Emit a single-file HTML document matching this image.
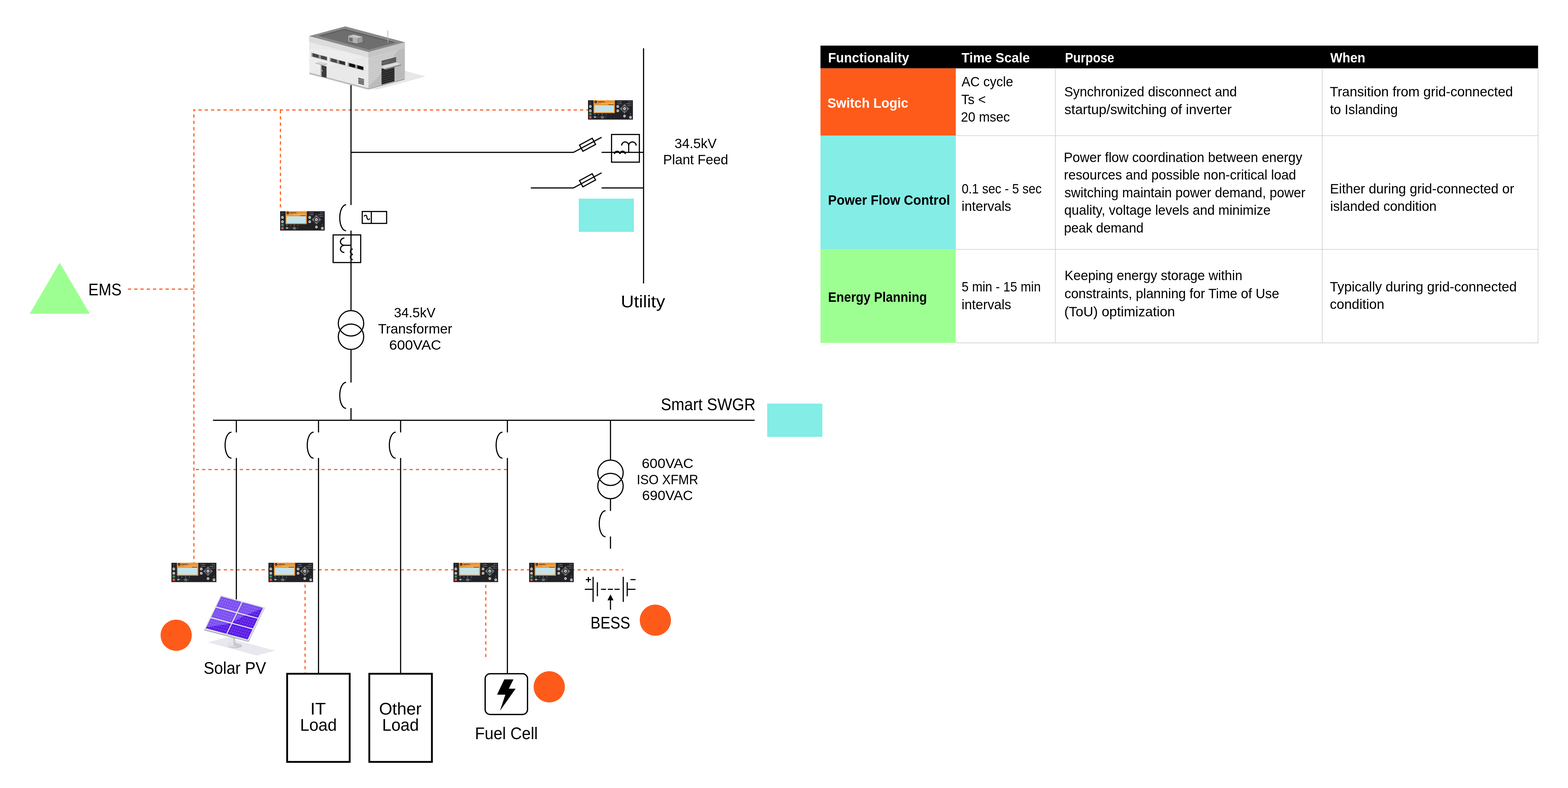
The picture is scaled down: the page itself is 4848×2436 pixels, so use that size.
<!DOCTYPE html>
<html lang="en"><head><meta charset="utf-8"><title>Microgrid control architecture</title>
<style>html,body{margin:0;padding:0;background:#fff}body{width:4848px;height:2436px;overflow:hidden}svg{display:block;will-change:transform}text{font-family:"Liberation Sans",Arial,Helvetica,sans-serif}</style>
</head><body>
<svg xmlns="http://www.w3.org/2000/svg" width="4848" height="2436" viewBox="0 0 4848 2436">
<rect width="4848" height="2436" fill="#fff"/>
<filter id="soft" x="-5%" y="-5%" width="110%" height="110%"><feGaussianBlur stdDeviation="0.45"/></filter>
<filter id="soft2" x="-2%" y="-4%" width="104%" height="108%"><feGaussianBlur stdDeviation="0.35"/></filter>
<g>
<path d="M1822.7 340 H597.75" fill="none" stroke="#FE5B1B" stroke-width="3.5" stroke-dasharray="10 9.34" stroke-dashoffset="0"/>
<path d="M599.5 338.25 V1742" fill="none" stroke="#FE5B1B" stroke-width="3.5" stroke-dasharray="10 9.49" stroke-dashoffset="3.95"/>
<path d="M867 339.9 V641.2" fill="none" stroke="#FE5B1B" stroke-width="3.5" stroke-dasharray="10 9.4" stroke-dashoffset="0"/>
<path d="M395.5 893.75 H599" fill="none" stroke="#FE5B1B" stroke-width="3.5" stroke-dasharray="10 9.4" stroke-dashoffset="0"/>
<path d="M1568.75 1451.5 H601" fill="none" stroke="#FE5B1B" stroke-width="3.5" stroke-dasharray="10 9.44" stroke-dashoffset="-0.8"/>
<path d="M672.3 1761.6 H1927.2" fill="none" stroke="#FE5B1B" stroke-width="3.5" stroke-dasharray="10 9.53" stroke-dashoffset="0"/>
<path d="M943.25 1807 V2080" fill="none" stroke="#FE5B1B" stroke-width="3.5" stroke-dasharray="9.6 9.8" stroke-dashoffset="0"/>
<path d="M1502 1808 V2032" fill="none" stroke="#FE5B1B" stroke-width="3.5" stroke-dasharray="9.8 9.6" stroke-dashoffset="0"/>
</g>
<g stroke-linecap="butt">
<line x1="1085.25" y1="262" x2="1085.25" y2="633.8" stroke="#000" stroke-width="3.5"/>
<line x1="1085.25" y1="712.8" x2="1085.25" y2="958.8" stroke="#000" stroke-width="3.5"/>
<line x1="1085.25" y1="1082" x2="1085.25" y2="1182.6" stroke="#000" stroke-width="3.5"/>
<line x1="1085.25" y1="1261.6" x2="1085.25" y2="1299.25" stroke="#000" stroke-width="3.5"/>
<path d="M1070.05 633 A19.6 40.3 0 0 0 1070.05 713.6" fill="none" stroke="#000" stroke-width="3.5"/>
<path d="M1070.05 1182 A19.6 40.2 0 0 0 1070.05 1262.4" fill="none" stroke="#000" stroke-width="3.5"/>
<path d="M1085.25 471.1 H1773 L1860 424.4" fill="none" stroke="#000" stroke-width="3.5"/>
<line x1="1860" y1="471.1" x2="1990" y2="471.1" stroke="#000" stroke-width="3.5"/>
<path d="M1641.2 580.9 H1773 L1860 534.2" fill="none" stroke="#000" stroke-width="3.5"/>
<line x1="1860" y1="580.9" x2="1990" y2="580.9" stroke="#000" stroke-width="3.5"/>
<rect x="1794.3" y="436.55" width="44.6" height="21.9" fill="none" stroke="#000" stroke-width="3.5" transform="rotate(-28.4 1816.6 447.5)"/>
<rect x="1794.3" y="546.35" width="44.6" height="21.9" fill="none" stroke="#000" stroke-width="3.5" transform="rotate(-28.4 1816.6 557.3)"/>
<line x1="1989.75" y1="149.2" x2="1989.75" y2="876.3" stroke="#000" stroke-width="3.5"/>
<rect x="1890.8" y="415.7" width="86" height="85.6" fill="none" stroke="#000" stroke-width="3.5"/>
<path d="M1922 449.9 A10.9 11.2 0 0 1 1943.8 449.9 A11.55 11.2 0 0 1 1966.9 449.9 M1943.8 449.9 V471.1" fill="none" stroke="#000" stroke-width="3.5"/>
<path d="M1899.8 476.3 A8.4 8.6 0 0 1 1916.6 476.3 A8.3 8.6 0 0 1 1933.2 476.3" fill="none" stroke="#000" stroke-width="4.2"/>
<rect x="1030" y="726.2" width="85.2" height="85.4" fill="none" stroke="#000" stroke-width="3.5"/>
<path d="M1064.6 736.1 A12 11.1 0 0 0 1064.6 758.3 A12 11.1 0 0 0 1064.6 780.5 M1060 758.3 H1085.25" fill="none" stroke="#000" stroke-width="3.5"/>
<path d="M1090.4 769.6 A8.6 8.6 0 0 0 1090.4 786.4 A8.6 8.6 0 0 0 1090.4 803.2" fill="none" stroke="#000" stroke-width="4.2"/>
<rect x="1120" y="653.8" width="75.4" height="36.8" fill="none" stroke="#000" stroke-width="3.5"/>
<line x1="1148.1" y1="653.8" x2="1148.1" y2="690.6" stroke="#000" stroke-width="3.5"/>
<path d="M1126 669.3 C1127.3 664.2 1132.8 663.6 1134 669.4 C1134.8 673.3 1134.4 676.8 1137.8 678.6 C1140.6 679.8 1142.4 677.6 1142.6 675" fill="none" stroke="#000" stroke-width="3.2"/>
<circle cx="1085.25" cy="999.6" r="39.25" fill="none" stroke="#000" stroke-width="3.5"/>
<circle cx="1085.25" cy="1041" r="39.25" fill="none" stroke="#000" stroke-width="3.5"/>
<circle cx="1887.5" cy="1461.6" r="39.25" fill="none" stroke="#000" stroke-width="3.5"/>
<circle cx="1887.5" cy="1502.6" r="39.25" fill="none" stroke="#000" stroke-width="3.5"/>
<line x1="658.5" y1="1299.25" x2="2333.3" y2="1299.25" stroke="#000" stroke-width="3.5"/>
<line x1="730.75" y1="1299.25" x2="730.75" y2="1336.8" stroke="#000" stroke-width="3.5"/>
<line x1="730.75" y1="1415.8" x2="730.75" y2="1853" stroke="#000" stroke-width="3.5"/>
<path d="M715.55 1336 A19.6 40.3 0 0 0 715.55 1416.6" fill="none" stroke="#000" stroke-width="3.5"/>
<line x1="984.75" y1="1299.25" x2="984.75" y2="1336.8" stroke="#000" stroke-width="3.5"/>
<line x1="984.75" y1="1415.8" x2="984.75" y2="2081" stroke="#000" stroke-width="3.5"/>
<path d="M969.55 1336 A19.6 40.3 0 0 0 969.55 1416.6" fill="none" stroke="#000" stroke-width="3.5"/>
<line x1="1238.6" y1="1299.25" x2="1238.6" y2="1336.8" stroke="#000" stroke-width="3.5"/>
<line x1="1238.6" y1="1415.8" x2="1238.6" y2="2081" stroke="#000" stroke-width="3.5"/>
<path d="M1223.4 1336 A19.6 40.3 0 0 0 1223.4 1416.6" fill="none" stroke="#000" stroke-width="3.5"/>
<line x1="1568.75" y1="1299.25" x2="1568.75" y2="1336.8" stroke="#000" stroke-width="3.5"/>
<line x1="1568.75" y1="1415.8" x2="1568.75" y2="2081.5" stroke="#000" stroke-width="3.5"/>
<path d="M1553.55 1336 A19.6 40.3 0 0 0 1553.55 1416.6" fill="none" stroke="#000" stroke-width="3.5"/>
<line x1="1887.5" y1="1299.25" x2="1887.5" y2="1420.8" stroke="#000" stroke-width="3.5"/>
<line x1="1887.5" y1="1543.4" x2="1887.5" y2="1579.6" stroke="#000" stroke-width="3.5"/>
<path d="M1872.3 1578.8 A19.6 40.3 0 0 0 1872.3 1659.4" fill="none" stroke="#000" stroke-width="3.5"/>
<line x1="1887.5" y1="1658.4" x2="1887.5" y2="1696.3" stroke="#000" stroke-width="3.5"/>
<line x1="1808" y1="1821.75" x2="1833.75" y2="1821.75" stroke="#000" stroke-width="3.5"/>
<line x1="1833.75" y1="1783.2" x2="1833.75" y2="1860.8" stroke="#000" stroke-width="3.5"/>
<line x1="1847" y1="1800" x2="1847" y2="1843.3" stroke="#000" stroke-width="3.5"/>
<line x1="1858.3" y1="1821.75" x2="1873.8" y2="1821.75" stroke="#000" stroke-width="3.5"/>
<line x1="1879.3" y1="1821.75" x2="1895" y2="1821.75" stroke="#000" stroke-width="3.5"/>
<line x1="1900" y1="1821.75" x2="1915.8" y2="1821.75" stroke="#000" stroke-width="3.5"/>
<line x1="1927" y1="1783.2" x2="1927" y2="1860.8" stroke="#000" stroke-width="3.5"/>
<line x1="1939.25" y1="1800" x2="1939.25" y2="1843.3" stroke="#000" stroke-width="3.5"/>
<line x1="1939.25" y1="1821.75" x2="1965" y2="1821.75" stroke="#000" stroke-width="3.5"/>
<line x1="1811.2" y1="1791.75" x2="1827.3" y2="1791.75" stroke="#000" stroke-width="3.5"/>
<line x1="1819.25" y1="1783.7" x2="1819.25" y2="1799.8" stroke="#000" stroke-width="3.5"/>
<line x1="1949.3" y1="1791.75" x2="1965" y2="1791.75" stroke="#000" stroke-width="3.5"/>
<line x1="1887.5" y1="1885" x2="1887.5" y2="1853" stroke="#000" stroke-width="3.5"/>
<polygon points="1887.5,1837.5 1896.8,1855.8 1878.2,1855.8" fill="#000"/>
<rect x="887.8" y="2082.8" width="193.4" height="272.5" fill="none" stroke="#000" stroke-width="5.6"/>
<rect x="1141.8" y="2082.8" width="193.6" height="272.5" fill="none" stroke="#000" stroke-width="5.6"/>
<rect x="1500" y="2082.75" width="131" height="126" fill="none" stroke="#000" stroke-width="4" rx="15.5"/>
<polygon points="1559.25,2100.25 1587.5,2100.25 1573.25,2129 1594.25,2129 1545.75,2197.5 1562.5,2147.5 1536.75,2147.5" fill="#000"/>
</g>
<polygon points="184.5,812 277.75,970 91.75,970" fill="#9DFF92"/>
<rect x="1789.5" y="614" width="170.5" height="102.75" fill="#83EDE6"/>
<rect x="2372" y="1247.75" width="170.5" height="102.75" fill="#83EDE6"/>
<circle cx="544.7" cy="1963.7" r="48.2" fill="#FE5B1B"/>
<circle cx="2026.25" cy="1917.25" r="48.2" fill="#FE5B1B"/>
<circle cx="1698.2" cy="2123.25" r="48.2" fill="#FE5B1B"/>
<g filter="url(#soft)">
<polygon points="1136.64,276.15 1168.32,276.15 1315.9,236.27 1251.8,218.76 1251.8,243.54" fill="#E7E7E7"/>
<polygon points="955.53,111.43 1139.07,160.81 1139.07,272.79 956.83,225.09" fill="#E9E9E9"/>
<polygon points="955.53,149.44 1139.07,164.35 1139.07,171.8 1030.43,201.61 956.83,222.11" fill="#EDEDED"/>
<polygon points="955.53,111.43 1139.07,160.81 1139.07,178.51 955.53,129.32" fill="#DCDCDC"/>
<polygon points="956.83,224.35 1137.02,271.86 1137.02,276.71 956.83,229.19" fill="#BBBBBB"/>
<polygon points="1139.07,160.81 1251.8,130.62 1251.8,243.91 1139.07,272.79" fill="#BDBDBD"/>
<polygon points="1139.07,178.51 1231.67,154.1 1168.32,238.88 1139.07,266.83" fill="#CFCFCF"/>
<polygon points="1139.07,160.81 1251.8,130.62 1251.8,149.07 1139.07,178.88" fill="#C6C6C6"/>
<line x1="1139.07" y1="184.47" x2="1251.8" y2="154.29" stroke="#B0B0B0" stroke-width="0.9"/>
<line x1="1139.07" y1="190.62" x2="1251.8" y2="160.43" stroke="#B0B0B0" stroke-width="0.9"/>
<line x1="1139.07" y1="196.77" x2="1251.8" y2="166.58" stroke="#B0B0B0" stroke-width="0.9"/>
<line x1="1139.07" y1="202.92" x2="1251.8" y2="172.73" stroke="#B0B0B0" stroke-width="0.9"/>
<line x1="1139.07" y1="209.07" x2="1251.8" y2="178.88" stroke="#B0B0B0" stroke-width="0.9"/>
<line x1="1139.07" y1="215.22" x2="1251.8" y2="185.03" stroke="#B0B0B0" stroke-width="0.9"/>
<line x1="1139.07" y1="221.37" x2="1251.8" y2="191.18" stroke="#B0B0B0" stroke-width="0.9"/>
<line x1="1139.07" y1="227.51" x2="1251.8" y2="197.33" stroke="#B0B0B0" stroke-width="0.9"/>
<line x1="1139.07" y1="233.66" x2="1251.8" y2="203.48" stroke="#B0B0B0" stroke-width="0.9"/>
<line x1="1139.07" y1="239.81" x2="1251.8" y2="209.63" stroke="#B0B0B0" stroke-width="0.9"/>
<line x1="1139.07" y1="245.96" x2="1251.8" y2="215.78" stroke="#B0B0B0" stroke-width="0.9"/>
<line x1="1139.07" y1="252.11" x2="1251.8" y2="221.92" stroke="#B0B0B0" stroke-width="0.9"/>
<line x1="1139.07" y1="258.26" x2="1251.8" y2="228.07" stroke="#B0B0B0" stroke-width="0.9"/>
<line x1="1139.07" y1="264.41" x2="1251.8" y2="234.22" stroke="#B0B0B0" stroke-width="0.9"/>
<polygon points="1139.07,273.17 1251.8,243.35 1250.31,246.52 1136.64,276.71" fill="#9C9C9C"/>
<polygon points="1136.64,271.86 1139.07,272.42 1139.07,273.54 1136.64,276.71" fill="#C4C4C4"/>
<polygon points="1067.7,81.43 1251.8,130.43 1139.07,160.81 955.53,111.43" fill="#8A8A8A"/>
<polygon points="1064.91,89.07 1223.85,131.18 1140,153.17 984.22,110.5" fill="#5F5F5F"/>
<polygon points="1065.28,92.79 1216.77,133.04 1140,153.17 991.3,112.55" fill="#6E6E6E"/>
<polygon points="1104.04,134.53 1120.81,130.43 1131.99,129.32 1110.56,135.28" fill="#5A5A5A"/>
<polygon points="1077.02,110.68 1104.04,118.14 1104.04,134.53 1077.02,127.45" fill="#B4B4B4"/>
<polygon points="1104.04,118.14 1120.81,114.04 1120.81,130.43 1104.04,134.53" fill="#9A9A9A"/>
<polygon points="1077.02,110.68 1093.79,106.96 1120.81,114.04 1104.04,118.14" fill="#C8C8C8"/>
<line x1="1080" y1="116.65" x2="1090.43" y2="119.44" stroke="#3d3d3d" stroke-width="1.25"/>
<line x1="1080" y1="118.79" x2="1090.43" y2="121.58" stroke="#3d3d3d" stroke-width="1.25"/>
<line x1="1080" y1="120.93" x2="1090.43" y2="123.73" stroke="#3d3d3d" stroke-width="1.25"/>
<line x1="1080" y1="123.07" x2="1090.43" y2="125.87" stroke="#3d3d3d" stroke-width="1.25"/>
<line x1="1080" y1="125.22" x2="1090.43" y2="128.01" stroke="#3d3d3d" stroke-width="1.25"/>
<line x1="1199.07" y1="94.29" x2="1199.07" y2="131.93" stroke="#B3B3B3" stroke-width="2"/>
<polygon points="961.86,161.55 1012.36,175.15 1012.36,188.94 961.86,175.9" fill="#CDCDCD"/>
<polygon points="963.35,163.6 1011.43,176.65 1011.43,187.08 963.35,174.41" fill="#9A9A9A"/>
<polygon points="966.71,164.35 985.15,169.38 985.15,179.44 966.71,174.41" fill="#454545"/>
<polygon points="992.24,171.24 1010.31,176.09 1010.31,186.15 992.24,181.3" fill="#454545"/>
<polygon points="1018.32,176.83 1068.82,190.43 1068.82,204.22 1018.32,191.18" fill="#CDCDCD"/>
<polygon points="1019.81,178.88 1067.89,191.92 1067.89,202.36 1019.81,189.69" fill="#9A9A9A"/>
<polygon points="1023.17,179.63 1041.61,184.66 1041.61,194.72 1023.17,189.69" fill="#484848"/>
<polygon points="1048.69,186.52 1066.77,191.37 1066.77,201.43 1048.69,196.58" fill="#333333"/>
<polygon points="1074.6,191.92 1125.09,205.53 1125.09,219.32 1074.6,206.27" fill="#CDCDCD"/>
<polygon points="1076.09,193.97 1124.16,207.02 1124.16,217.45 1076.09,204.78" fill="#9A9A9A"/>
<polygon points="1079.44,194.72 1097.89,199.75 1097.89,209.81 1079.44,204.78" fill="#111111"/>
<polygon points="1104.97,201.61 1123.04,206.46 1123.04,216.52 1104.97,211.68" fill="#111111"/>
<polygon points="991.3,200.12 1010.31,204.97 1010.31,241.12 991.3,236.27" fill="#A6A6A6"/>
<polygon points="994.66,201.99 1009.19,205.71 1009.19,240.37 994.66,236.64" fill="#3A3A3A"/>
<polygon points="995.03,216.15 996.89,216.52 996.89,220.62 995.03,220.25" fill="#DDDDDD"/>
<polygon points="975.62,194.35 998.62,200.53 1011.76,196.58 1011.76,198.42 998.62,202.37 975.62,196.06" fill="#A4A4A4"/>
<polygon points="975.62,194.35 989.42,190.41 1011.76,196.58 998.62,200.53" fill="#D6D6D6"/>
<polygon points="1107.76,240.37 1125.46,245.03 1125.46,247.08 1107.76,242.42" fill="#161616"/>
<polygon points="1107.76,244.28 1125.46,248.94 1125.46,250.99 1107.76,246.33" fill="#161616"/>
<polygon points="1107.76,248.2 1125.46,252.86 1125.46,254.91 1107.76,250.25" fill="#161616"/>
<polygon points="1107.76,252.11 1125.46,256.77 1125.46,258.82 1107.76,254.16" fill="#161616"/>
<polygon points="1107.76,256.02 1125.46,260.68 1125.46,262.73 1107.76,258.07" fill="#161616"/>
<polygon points="1179.67,188.46 1224.88,177.03 1224.88,179.26 1179.67,190.7" fill="#161616"/>
<polygon points="1179.67,192.34 1224.88,180.91 1224.88,183.14 1179.67,194.57" fill="#161616"/>
<polygon points="1179.67,196.22 1224.88,184.78 1224.88,187.02 1179.67,198.45" fill="#161616"/>
<polygon points="1179.67,200.09 1224.88,188.66 1224.88,190.89 1179.67,202.33" fill="#161616"/>
<polygon points="1219.36,207.78 1225.53,206.2 1225.53,251.93 1219.36,251.41" fill="#BEBEBE"/>
<polygon points="1179.67,211.98 1219.62,206.73 1219.62,250.88 1179.67,261.39" fill="#272727"/>
<line x1="1179.67" y1="221.18" x2="1219.62" y2="210.67" stroke="#707070" stroke-width="0.8"/>
<line x1="1179.67" y1="228.02" x2="1219.62" y2="217.5" stroke="#707070" stroke-width="0.8"/>
<line x1="1179.67" y1="234.85" x2="1219.62" y2="224.34" stroke="#707070" stroke-width="0.8"/>
<line x1="1179.67" y1="241.68" x2="1219.62" y2="231.17" stroke="#707070" stroke-width="0.8"/>
<line x1="1179.67" y1="248.52" x2="1219.62" y2="238" stroke="#707070" stroke-width="0.8"/>
<line x1="1179.67" y1="255.35" x2="1219.62" y2="244.84" stroke="#707070" stroke-width="0.8"/>
<polygon points="1193.07,210.67 1239.72,198.32 1239.72,202.52 1193.07,214.88" fill="#8F8F8F"/>
<polygon points="1178.62,206.47 1193.07,210.67 1193.07,214.88 1178.62,210.67" fill="#C2C2C2"/>
<polygon points="1178.62,206.47 1226.58,193.85 1239.72,198.32 1193.07,210.67" fill="#DEDEDE"/>
</g>
<g filter="url(#soft)">
<polygon points="642.72,1985.78 699.51,1970.85 851.24,2011.42 794.44,2026.67" fill="#E9E8EE"/>
<ellipse cx="726.29" cy="1996.33" rx="22.72" ry="7.46" fill="#C9C9D4"/>
<ellipse cx="717.85" cy="1995.52" rx="14.6" ry="5.19" fill="#DADADE"/>
<polygon points="703.57,1986.59 731.97,1986.59 731.97,1995.84 703.57,1995.84" fill="#E4E4E6"/>
<polygon points="722.23,1986.59 731.97,1986.59 731.97,1995.84 722.23,1997.14" fill="#C6C6CE"/>
<polygon points="709.25,1967.93 727.1,1967.93 727.1,1988.22 709.25,1988.22" fill="#E6E6E8"/>
<polygon points="720.93,1967.93 727.1,1967.93 727.1,1988.22 720.93,1988.22" fill="#C9C9D1"/>
<polygon points="631.68,1945.21 682.47,1840.06 818.3,1877.38 818.3,1880.63 768.48,1984.48 631.68,1948.78" fill="#A9B1BD"/>
<polygon points="682.47,1840.06 818.3,1877.38 767.99,1980.91 631.68,1945.21" fill="#E1E4E7"/>
<clipPath id="cells">
<polygon points="683.61,1843.79 746.67,1860.78 731.68,1891.84 668.62,1874.85"/>
<polygon points="667.01,1878.19 730.07,1895.18 715.89,1924.56 652.83,1907.57"/>
<polygon points="651.22,1910.91 714.28,1927.9 699.29,1958.96 636.23,1941.97"/>
<polygon points="750.04,1861.69 813.1,1878.68 798.11,1909.74 735.05,1892.75"/>
<polygon points="733.44,1896.08 796.5,1913.08 782.32,1942.46 719.26,1925.47"/>
<polygon points="717.65,1928.81 780.71,1945.8 765.72,1976.86 702.66,1959.87"/>
</clipPath>
<g clip-path="url(#cells)">
<polygon points="683.61,1843.79 813.1,1878.68 765.72,1976.86 636.23,1941.97" fill="#7D50F1"/>
<polygon points="812.16,1880.65 748.12,1906.7 741.63,1911.57 703.88,1929.13 637.65,1939.02 636.23,1941.97 765.72,1976.86 813.1,1878.68" fill="#5A1DE6"/>
<line x1="690.62" y1="1845.68" x2="675.63" y2="1876.74" stroke="#B9A2FA" stroke-width="0.4" opacity="0.55"/>
<line x1="697.62" y1="1847.57" x2="682.64" y2="1878.62" stroke="#B9A2FA" stroke-width="0.4" opacity="0.55"/>
<line x1="704.63" y1="1849.46" x2="689.64" y2="1880.51" stroke="#B9A2FA" stroke-width="0.4" opacity="0.55"/>
<line x1="711.64" y1="1851.34" x2="696.65" y2="1882.4" stroke="#B9A2FA" stroke-width="0.4" opacity="0.55"/>
<line x1="718.65" y1="1853.23" x2="703.66" y2="1884.29" stroke="#B9A2FA" stroke-width="0.4" opacity="0.55"/>
<line x1="725.65" y1="1855.12" x2="710.66" y2="1886.18" stroke="#B9A2FA" stroke-width="0.4" opacity="0.55"/>
<line x1="732.66" y1="1857.01" x2="717.67" y2="1888.06" stroke="#B9A2FA" stroke-width="0.4" opacity="0.55"/>
<line x1="739.67" y1="1858.9" x2="724.68" y2="1889.95" stroke="#B9A2FA" stroke-width="0.4" opacity="0.55"/>
<line x1="679.86" y1="1851.56" x2="742.93" y2="1868.55" stroke="#B9A2FA" stroke-width="0.4" opacity="0.55"/>
<line x1="676.12" y1="1859.32" x2="739.18" y2="1876.31" stroke="#B9A2FA" stroke-width="0.4" opacity="0.55"/>
<line x1="672.37" y1="1867.08" x2="735.43" y2="1884.08" stroke="#B9A2FA" stroke-width="0.4" opacity="0.55"/>
<circle cx="686.87" cy="1853.44" r="0.75" fill="#fff" opacity="0.8"/>
<circle cx="683.12" cy="1861.21" r="0.75" fill="#fff" opacity="0.8"/>
<circle cx="679.38" cy="1868.97" r="0.75" fill="#fff" opacity="0.8"/>
<circle cx="693.88" cy="1855.33" r="0.75" fill="#fff" opacity="0.8"/>
<circle cx="690.13" cy="1863.1" r="0.75" fill="#fff" opacity="0.8"/>
<circle cx="686.38" cy="1870.86" r="0.75" fill="#fff" opacity="0.8"/>
<circle cx="700.88" cy="1857.22" r="0.75" fill="#fff" opacity="0.8"/>
<circle cx="697.14" cy="1864.98" r="0.75" fill="#fff" opacity="0.8"/>
<circle cx="693.39" cy="1872.75" r="0.75" fill="#fff" opacity="0.8"/>
<circle cx="707.89" cy="1859.11" r="0.75" fill="#fff" opacity="0.8"/>
<circle cx="704.14" cy="1866.87" r="0.75" fill="#fff" opacity="0.8"/>
<circle cx="700.4" cy="1874.64" r="0.75" fill="#fff" opacity="0.8"/>
<circle cx="714.9" cy="1861" r="0.75" fill="#fff" opacity="0.8"/>
<circle cx="711.15" cy="1868.76" r="0.75" fill="#fff" opacity="0.8"/>
<circle cx="707.4" cy="1876.52" r="0.75" fill="#fff" opacity="0.8"/>
<circle cx="721.91" cy="1862.88" r="0.75" fill="#fff" opacity="0.8"/>
<circle cx="718.16" cy="1870.65" r="0.75" fill="#fff" opacity="0.8"/>
<circle cx="714.41" cy="1878.41" r="0.75" fill="#fff" opacity="0.8"/>
<circle cx="728.91" cy="1864.77" r="0.75" fill="#fff" opacity="0.8"/>
<circle cx="725.17" cy="1872.54" r="0.75" fill="#fff" opacity="0.8"/>
<circle cx="721.42" cy="1880.3" r="0.75" fill="#fff" opacity="0.8"/>
<circle cx="735.92" cy="1866.66" r="0.75" fill="#fff" opacity="0.8"/>
<circle cx="732.17" cy="1874.42" r="0.75" fill="#fff" opacity="0.8"/>
<circle cx="728.42" cy="1882.19" r="0.75" fill="#fff" opacity="0.8"/>
<line x1="674.02" y1="1880.07" x2="659.83" y2="1909.46" stroke="#B9A2FA" stroke-width="0.4" opacity="0.55"/>
<line x1="681.02" y1="1881.96" x2="666.84" y2="1911.35" stroke="#B9A2FA" stroke-width="0.4" opacity="0.55"/>
<line x1="688.03" y1="1883.85" x2="673.85" y2="1913.24" stroke="#B9A2FA" stroke-width="0.4" opacity="0.55"/>
<line x1="695.04" y1="1885.74" x2="680.86" y2="1915.13" stroke="#B9A2FA" stroke-width="0.4" opacity="0.55"/>
<line x1="702.05" y1="1887.63" x2="687.86" y2="1917.01" stroke="#B9A2FA" stroke-width="0.4" opacity="0.55"/>
<line x1="709.05" y1="1889.51" x2="694.87" y2="1918.9" stroke="#B9A2FA" stroke-width="0.4" opacity="0.55"/>
<line x1="716.06" y1="1891.4" x2="701.88" y2="1920.79" stroke="#B9A2FA" stroke-width="0.4" opacity="0.55"/>
<line x1="723.07" y1="1893.29" x2="708.88" y2="1922.68" stroke="#B9A2FA" stroke-width="0.4" opacity="0.55"/>
<line x1="663.46" y1="1885.53" x2="726.53" y2="1902.52" stroke="#B9A2FA" stroke-width="0.4" opacity="0.55"/>
<line x1="659.92" y1="1892.88" x2="722.98" y2="1909.87" stroke="#B9A2FA" stroke-width="0.4" opacity="0.55"/>
<line x1="656.37" y1="1900.23" x2="719.44" y2="1917.22" stroke="#B9A2FA" stroke-width="0.4" opacity="0.55"/>
<circle cx="670.47" cy="1887.42" r="0.75" fill="#fff" opacity="0.8"/>
<circle cx="666.93" cy="1894.77" r="0.75" fill="#fff" opacity="0.8"/>
<circle cx="663.38" cy="1902.11" r="0.75" fill="#fff" opacity="0.8"/>
<circle cx="677.48" cy="1889.31" r="0.75" fill="#fff" opacity="0.8"/>
<circle cx="673.93" cy="1896.66" r="0.75" fill="#fff" opacity="0.8"/>
<circle cx="670.39" cy="1904" r="0.75" fill="#fff" opacity="0.8"/>
<circle cx="684.49" cy="1891.2" r="0.75" fill="#fff" opacity="0.8"/>
<circle cx="680.94" cy="1898.54" r="0.75" fill="#fff" opacity="0.8"/>
<circle cx="677.39" cy="1905.89" r="0.75" fill="#fff" opacity="0.8"/>
<circle cx="691.49" cy="1893.09" r="0.75" fill="#fff" opacity="0.8"/>
<circle cx="687.95" cy="1900.43" r="0.75" fill="#fff" opacity="0.8"/>
<circle cx="684.4" cy="1907.78" r="0.75" fill="#fff" opacity="0.8"/>
<circle cx="698.5" cy="1894.97" r="0.75" fill="#fff" opacity="0.8"/>
<circle cx="694.95" cy="1902.32" r="0.75" fill="#fff" opacity="0.8"/>
<circle cx="691.41" cy="1909.67" r="0.75" fill="#fff" opacity="0.8"/>
<circle cx="705.51" cy="1896.86" r="0.75" fill="#fff" opacity="0.8"/>
<circle cx="701.96" cy="1904.21" r="0.75" fill="#fff" opacity="0.8"/>
<circle cx="698.42" cy="1911.55" r="0.75" fill="#fff" opacity="0.8"/>
<circle cx="712.51" cy="1898.75" r="0.75" fill="#fff" opacity="0.8"/>
<circle cx="708.97" cy="1906.1" r="0.75" fill="#fff" opacity="0.8"/>
<circle cx="705.42" cy="1913.44" r="0.75" fill="#fff" opacity="0.8"/>
<circle cx="719.52" cy="1900.64" r="0.75" fill="#fff" opacity="0.8"/>
<circle cx="715.97" cy="1907.98" r="0.75" fill="#fff" opacity="0.8"/>
<circle cx="712.43" cy="1915.33" r="0.75" fill="#fff" opacity="0.8"/>
<line x1="658.22" y1="1912.8" x2="643.23" y2="1943.86" stroke="#B9A2FA" stroke-width="0.4" opacity="0.55"/>
<line x1="665.23" y1="1914.69" x2="650.24" y2="1945.74" stroke="#B9A2FA" stroke-width="0.4" opacity="0.55"/>
<line x1="672.24" y1="1916.58" x2="657.25" y2="1947.63" stroke="#B9A2FA" stroke-width="0.4" opacity="0.55"/>
<line x1="679.24" y1="1918.46" x2="664.26" y2="1949.52" stroke="#B9A2FA" stroke-width="0.4" opacity="0.55"/>
<line x1="686.25" y1="1920.35" x2="671.26" y2="1951.41" stroke="#B9A2FA" stroke-width="0.4" opacity="0.55"/>
<line x1="693.26" y1="1922.24" x2="678.27" y2="1953.29" stroke="#B9A2FA" stroke-width="0.4" opacity="0.55"/>
<line x1="700.27" y1="1924.13" x2="685.28" y2="1955.18" stroke="#B9A2FA" stroke-width="0.4" opacity="0.55"/>
<line x1="707.27" y1="1926.01" x2="692.28" y2="1957.07" stroke="#B9A2FA" stroke-width="0.4" opacity="0.55"/>
<line x1="647.47" y1="1918.68" x2="710.53" y2="1935.67" stroke="#B9A2FA" stroke-width="0.4" opacity="0.55"/>
<line x1="643.72" y1="1926.44" x2="706.78" y2="1943.43" stroke="#B9A2FA" stroke-width="0.4" opacity="0.55"/>
<line x1="639.97" y1="1934.2" x2="703.04" y2="1951.19" stroke="#B9A2FA" stroke-width="0.4" opacity="0.55"/>
<circle cx="654.48" cy="1920.56" r="0.75" fill="#fff" opacity="0.8"/>
<circle cx="650.73" cy="1928.33" r="0.75" fill="#fff" opacity="0.8"/>
<circle cx="646.98" cy="1936.09" r="0.75" fill="#fff" opacity="0.8"/>
<circle cx="661.48" cy="1922.45" r="0.75" fill="#fff" opacity="0.8"/>
<circle cx="657.74" cy="1930.22" r="0.75" fill="#fff" opacity="0.8"/>
<circle cx="653.99" cy="1937.98" r="0.75" fill="#fff" opacity="0.8"/>
<circle cx="668.49" cy="1924.34" r="0.75" fill="#fff" opacity="0.8"/>
<circle cx="664.74" cy="1932.1" r="0.75" fill="#fff" opacity="0.8"/>
<circle cx="661" cy="1939.87" r="0.75" fill="#fff" opacity="0.8"/>
<circle cx="675.5" cy="1926.23" r="0.75" fill="#fff" opacity="0.8"/>
<circle cx="671.75" cy="1933.99" r="0.75" fill="#fff" opacity="0.8"/>
<circle cx="668" cy="1941.75" r="0.75" fill="#fff" opacity="0.8"/>
<circle cx="682.5" cy="1928.11" r="0.75" fill="#fff" opacity="0.8"/>
<circle cx="678.76" cy="1935.88" r="0.75" fill="#fff" opacity="0.8"/>
<circle cx="675.01" cy="1943.64" r="0.75" fill="#fff" opacity="0.8"/>
<circle cx="689.51" cy="1930" r="0.75" fill="#fff" opacity="0.8"/>
<circle cx="685.76" cy="1937.77" r="0.75" fill="#fff" opacity="0.8"/>
<circle cx="682.02" cy="1945.53" r="0.75" fill="#fff" opacity="0.8"/>
<circle cx="696.52" cy="1931.89" r="0.75" fill="#fff" opacity="0.8"/>
<circle cx="692.77" cy="1939.65" r="0.75" fill="#fff" opacity="0.8"/>
<circle cx="689.02" cy="1947.42" r="0.75" fill="#fff" opacity="0.8"/>
<circle cx="703.52" cy="1933.78" r="0.75" fill="#fff" opacity="0.8"/>
<circle cx="699.78" cy="1941.54" r="0.75" fill="#fff" opacity="0.8"/>
<circle cx="696.03" cy="1949.31" r="0.75" fill="#fff" opacity="0.8"/>
<line x1="757.05" y1="1863.58" x2="742.06" y2="1894.63" stroke="#B9A2FA" stroke-width="0.4" opacity="0.55"/>
<line x1="764.05" y1="1865.47" x2="749.07" y2="1896.52" stroke="#B9A2FA" stroke-width="0.4" opacity="0.55"/>
<line x1="771.06" y1="1867.35" x2="756.07" y2="1898.41" stroke="#B9A2FA" stroke-width="0.4" opacity="0.55"/>
<line x1="778.07" y1="1869.24" x2="763.08" y2="1900.3" stroke="#B9A2FA" stroke-width="0.4" opacity="0.55"/>
<line x1="785.08" y1="1871.13" x2="770.09" y2="1902.19" stroke="#B9A2FA" stroke-width="0.4" opacity="0.55"/>
<line x1="792.08" y1="1873.02" x2="777.09" y2="1904.07" stroke="#B9A2FA" stroke-width="0.4" opacity="0.55"/>
<line x1="799.09" y1="1874.91" x2="784.1" y2="1905.96" stroke="#B9A2FA" stroke-width="0.4" opacity="0.55"/>
<line x1="806.1" y1="1876.79" x2="791.11" y2="1907.85" stroke="#B9A2FA" stroke-width="0.4" opacity="0.55"/>
<line x1="746.29" y1="1869.45" x2="809.36" y2="1886.45" stroke="#B9A2FA" stroke-width="0.4" opacity="0.55"/>
<line x1="742.55" y1="1877.22" x2="805.61" y2="1894.21" stroke="#B9A2FA" stroke-width="0.4" opacity="0.55"/>
<line x1="738.8" y1="1884.98" x2="801.86" y2="1901.97" stroke="#B9A2FA" stroke-width="0.4" opacity="0.55"/>
<circle cx="753.3" cy="1871.34" r="0.75" fill="#fff" opacity="0.8"/>
<circle cx="749.55" cy="1879.11" r="0.75" fill="#fff" opacity="0.8"/>
<circle cx="745.81" cy="1886.87" r="0.75" fill="#fff" opacity="0.8"/>
<circle cx="760.31" cy="1873.23" r="0.75" fill="#fff" opacity="0.8"/>
<circle cx="756.56" cy="1880.99" r="0.75" fill="#fff" opacity="0.8"/>
<circle cx="752.81" cy="1888.76" r="0.75" fill="#fff" opacity="0.8"/>
<circle cx="767.31" cy="1875.12" r="0.75" fill="#fff" opacity="0.8"/>
<circle cx="763.57" cy="1882.88" r="0.75" fill="#fff" opacity="0.8"/>
<circle cx="759.82" cy="1890.65" r="0.75" fill="#fff" opacity="0.8"/>
<circle cx="774.32" cy="1877.01" r="0.75" fill="#fff" opacity="0.8"/>
<circle cx="770.57" cy="1884.77" r="0.75" fill="#fff" opacity="0.8"/>
<circle cx="766.83" cy="1892.53" r="0.75" fill="#fff" opacity="0.8"/>
<circle cx="781.33" cy="1878.89" r="0.75" fill="#fff" opacity="0.8"/>
<circle cx="777.58" cy="1886.66" r="0.75" fill="#fff" opacity="0.8"/>
<circle cx="773.83" cy="1894.42" r="0.75" fill="#fff" opacity="0.8"/>
<circle cx="788.34" cy="1880.78" r="0.75" fill="#fff" opacity="0.8"/>
<circle cx="784.59" cy="1888.55" r="0.75" fill="#fff" opacity="0.8"/>
<circle cx="780.84" cy="1896.31" r="0.75" fill="#fff" opacity="0.8"/>
<circle cx="795.34" cy="1882.67" r="0.75" fill="#fff" opacity="0.8"/>
<circle cx="791.59" cy="1890.43" r="0.75" fill="#fff" opacity="0.8"/>
<circle cx="787.85" cy="1898.2" r="0.75" fill="#fff" opacity="0.8"/>
<circle cx="802.35" cy="1884.56" r="0.75" fill="#fff" opacity="0.8"/>
<circle cx="798.6" cy="1892.32" r="0.75" fill="#fff" opacity="0.8"/>
<circle cx="794.85" cy="1900.09" r="0.75" fill="#fff" opacity="0.8"/>
<line x1="740.45" y1="1897.97" x2="726.26" y2="1927.36" stroke="#B9A2FA" stroke-width="0.4" opacity="0.55"/>
<line x1="747.45" y1="1899.86" x2="733.27" y2="1929.25" stroke="#B9A2FA" stroke-width="0.4" opacity="0.55"/>
<line x1="754.46" y1="1901.75" x2="740.28" y2="1931.14" stroke="#B9A2FA" stroke-width="0.4" opacity="0.55"/>
<line x1="761.47" y1="1903.64" x2="747.29" y2="1933.02" stroke="#B9A2FA" stroke-width="0.4" opacity="0.55"/>
<line x1="768.48" y1="1905.52" x2="754.29" y2="1934.91" stroke="#B9A2FA" stroke-width="0.4" opacity="0.55"/>
<line x1="775.48" y1="1907.41" x2="761.3" y2="1936.8" stroke="#B9A2FA" stroke-width="0.4" opacity="0.55"/>
<line x1="782.49" y1="1909.3" x2="768.31" y2="1938.69" stroke="#B9A2FA" stroke-width="0.4" opacity="0.55"/>
<line x1="789.5" y1="1911.19" x2="775.31" y2="1940.57" stroke="#B9A2FA" stroke-width="0.4" opacity="0.55"/>
<line x1="729.89" y1="1903.43" x2="792.96" y2="1920.42" stroke="#B9A2FA" stroke-width="0.4" opacity="0.55"/>
<line x1="726.35" y1="1910.78" x2="789.41" y2="1927.77" stroke="#B9A2FA" stroke-width="0.4" opacity="0.55"/>
<line x1="722.8" y1="1918.12" x2="785.87" y2="1935.12" stroke="#B9A2FA" stroke-width="0.4" opacity="0.55"/>
<circle cx="736.9" cy="1905.32" r="0.75" fill="#fff" opacity="0.8"/>
<circle cx="733.36" cy="1912.67" r="0.75" fill="#fff" opacity="0.8"/>
<circle cx="729.81" cy="1920.01" r="0.75" fill="#fff" opacity="0.8"/>
<circle cx="743.91" cy="1907.21" r="0.75" fill="#fff" opacity="0.8"/>
<circle cx="740.36" cy="1914.55" r="0.75" fill="#fff" opacity="0.8"/>
<circle cx="736.82" cy="1921.9" r="0.75" fill="#fff" opacity="0.8"/>
<circle cx="750.92" cy="1909.09" r="0.75" fill="#fff" opacity="0.8"/>
<circle cx="747.37" cy="1916.44" r="0.75" fill="#fff" opacity="0.8"/>
<circle cx="743.82" cy="1923.79" r="0.75" fill="#fff" opacity="0.8"/>
<circle cx="757.92" cy="1910.98" r="0.75" fill="#fff" opacity="0.8"/>
<circle cx="754.38" cy="1918.33" r="0.75" fill="#fff" opacity="0.8"/>
<circle cx="750.83" cy="1925.68" r="0.75" fill="#fff" opacity="0.8"/>
<circle cx="764.93" cy="1912.87" r="0.75" fill="#fff" opacity="0.8"/>
<circle cx="761.38" cy="1920.22" r="0.75" fill="#fff" opacity="0.8"/>
<circle cx="757.84" cy="1927.56" r="0.75" fill="#fff" opacity="0.8"/>
<circle cx="771.94" cy="1914.76" r="0.75" fill="#fff" opacity="0.8"/>
<circle cx="768.39" cy="1922.11" r="0.75" fill="#fff" opacity="0.8"/>
<circle cx="764.84" cy="1929.45" r="0.75" fill="#fff" opacity="0.8"/>
<circle cx="778.94" cy="1916.65" r="0.75" fill="#fff" opacity="0.8"/>
<circle cx="775.4" cy="1923.99" r="0.75" fill="#fff" opacity="0.8"/>
<circle cx="771.85" cy="1931.34" r="0.75" fill="#fff" opacity="0.8"/>
<circle cx="785.95" cy="1918.53" r="0.75" fill="#fff" opacity="0.8"/>
<circle cx="782.4" cy="1925.88" r="0.75" fill="#fff" opacity="0.8"/>
<circle cx="778.86" cy="1933.23" r="0.75" fill="#fff" opacity="0.8"/>
<line x1="724.65" y1="1930.7" x2="709.66" y2="1961.75" stroke="#B9A2FA" stroke-width="0.4" opacity="0.55"/>
<line x1="731.66" y1="1932.59" x2="716.67" y2="1963.64" stroke="#B9A2FA" stroke-width="0.4" opacity="0.55"/>
<line x1="738.67" y1="1934.47" x2="723.68" y2="1965.53" stroke="#B9A2FA" stroke-width="0.4" opacity="0.55"/>
<line x1="745.67" y1="1936.36" x2="730.69" y2="1967.42" stroke="#B9A2FA" stroke-width="0.4" opacity="0.55"/>
<line x1="752.68" y1="1938.25" x2="737.69" y2="1969.3" stroke="#B9A2FA" stroke-width="0.4" opacity="0.55"/>
<line x1="759.69" y1="1940.14" x2="744.7" y2="1971.19" stroke="#B9A2FA" stroke-width="0.4" opacity="0.55"/>
<line x1="766.7" y1="1942.02" x2="751.71" y2="1973.08" stroke="#B9A2FA" stroke-width="0.4" opacity="0.55"/>
<line x1="773.7" y1="1943.91" x2="758.71" y2="1974.97" stroke="#B9A2FA" stroke-width="0.4" opacity="0.55"/>
<line x1="713.9" y1="1936.57" x2="776.96" y2="1953.56" stroke="#B9A2FA" stroke-width="0.4" opacity="0.55"/>
<line x1="710.15" y1="1944.34" x2="773.21" y2="1961.33" stroke="#B9A2FA" stroke-width="0.4" opacity="0.55"/>
<line x1="706.4" y1="1952.1" x2="769.47" y2="1969.09" stroke="#B9A2FA" stroke-width="0.4" opacity="0.55"/>
<circle cx="720.91" cy="1938.46" r="0.75" fill="#fff" opacity="0.8"/>
<circle cx="717.16" cy="1946.23" r="0.75" fill="#fff" opacity="0.8"/>
<circle cx="713.41" cy="1953.99" r="0.75" fill="#fff" opacity="0.8"/>
<circle cx="727.91" cy="1940.35" r="0.75" fill="#fff" opacity="0.8"/>
<circle cx="724.17" cy="1948.11" r="0.75" fill="#fff" opacity="0.8"/>
<circle cx="720.42" cy="1955.88" r="0.75" fill="#fff" opacity="0.8"/>
<circle cx="734.92" cy="1942.24" r="0.75" fill="#fff" opacity="0.8"/>
<circle cx="731.17" cy="1950" r="0.75" fill="#fff" opacity="0.8"/>
<circle cx="727.43" cy="1957.76" r="0.75" fill="#fff" opacity="0.8"/>
<circle cx="741.93" cy="1944.12" r="0.75" fill="#fff" opacity="0.8"/>
<circle cx="738.18" cy="1951.89" r="0.75" fill="#fff" opacity="0.8"/>
<circle cx="734.43" cy="1959.65" r="0.75" fill="#fff" opacity="0.8"/>
<circle cx="748.93" cy="1946.01" r="0.75" fill="#fff" opacity="0.8"/>
<circle cx="745.19" cy="1953.78" r="0.75" fill="#fff" opacity="0.8"/>
<circle cx="741.44" cy="1961.54" r="0.75" fill="#fff" opacity="0.8"/>
<circle cx="755.94" cy="1947.9" r="0.75" fill="#fff" opacity="0.8"/>
<circle cx="752.19" cy="1955.66" r="0.75" fill="#fff" opacity="0.8"/>
<circle cx="748.45" cy="1963.43" r="0.75" fill="#fff" opacity="0.8"/>
<circle cx="762.95" cy="1949.79" r="0.75" fill="#fff" opacity="0.8"/>
<circle cx="759.2" cy="1957.55" r="0.75" fill="#fff" opacity="0.8"/>
<circle cx="755.45" cy="1965.32" r="0.75" fill="#fff" opacity="0.8"/>
<circle cx="769.95" cy="1951.68" r="0.75" fill="#fff" opacity="0.8"/>
<circle cx="766.21" cy="1959.44" r="0.75" fill="#fff" opacity="0.8"/>
<circle cx="762.46" cy="1967.2" r="0.75" fill="#fff" opacity="0.8"/>
</g>
</g>
<g transform="translate(1818 310) scale(1.0000 1)" filter="url(#soft2)">
<rect width="138.8" height="59.7" fill="#222426"/>
<rect x="17" y="0" width="66" height="39.8" fill="#EE9531"/>
<rect x="19.9" y="15.5" width="60.1" height="21.4" fill="#C4E4EA"/>
<circle cx="23.9" cy="5" r="4" fill="#1b1b1b"/>
<path d="M21.3 3.7 L23.9 6.3 L26.5 3.7" fill="none" stroke="#EE9531" stroke-width="1.2"/>
<text x="29.9" y="7.05" font-size="5.6" font-weight="700" fill="#1b1b1b" textLength="20.6" lengthAdjust="spacingAndGlyphs">VERTIV</text>
<rect x="51" y="6.3" width="1.6" height="0.8" fill="#1b1b1b"/>
<rect x="40.7" y="9.5" width="39.1" height="1.4" fill="#F6CC95"/>
<rect x="63" y="13" width="16.8" height="1.4" fill="#3d2f1c"/>
<rect x="2.9" y="14.7" width="8.8" height="8.8" rx="1.2" fill="#4A4C4F"/>
<circle cx="7.3" cy="19.1" r="3.65" fill="#EDEDED"/>
<ellipse cx="7.3" cy="19.1" rx="2.3" ry="1.05" fill="#3a3a3a"/>
<rect x="2.9" y="28" width="8.8" height="8.8" rx="1.2" fill="#4A4C4F"/>
<circle cx="7.3" cy="32.4" r="3.65" fill="#EDEDED"/>
<ellipse cx="7.3" cy="32.4" rx="2.3" ry="1.05" fill="#3a3a3a"/>
<rect x="2.9" y="38.1" width="8.8" height="8.8" rx="1.2" fill="#4A4C4F"/>
<circle cx="7.3" cy="42.5" r="3.65" fill="#1D8348"/>
<ellipse cx="7.3" cy="42.5" rx="2.3" ry="1.05" fill="#7fc79d"/>
<rect x="2.9" y="48.2" width="8.8" height="8.8" rx="1.2" fill="#4A4C4F"/>
<circle cx="7.3" cy="52.6" r="3.65" fill="#E2322C"/>
<ellipse cx="7.3" cy="52.6" rx="2.3" ry="1.05" fill="#f3a19c"/>
<rect x="5.4" y="5.2" width="3.8" height="1" fill="#8d8f91"/><rect x="6.8" y="8.2" width="1.1" height="1.5" fill="#c9eef7"/><rect x="5.4" y="13.3" width="3.8" height="1" fill="#8d8f91"/>
<rect x="87.7" y="14.7" width="8.8" height="8.8" rx="1.2" fill="#4A4C4F"/>
<circle cx="92.1" cy="19.1" r="3.65" fill="#EDEDED"/>
<ellipse cx="92.1" cy="19.1" rx="2.3" ry="1.05" fill="#3a3a3a"/>
<rect x="87.7" y="28" width="8.8" height="8.8" rx="1.2" fill="#4A4C4F"/>
<circle cx="92.1" cy="32.4" r="3.65" fill="#EDEDED"/>
<ellipse cx="92.1" cy="32.4" rx="2.3" ry="1.05" fill="#3a3a3a"/>
<rect x="107.85" y="12.8" width="10.3" height="10.3" fill="#5C5F62" transform="rotate(45 113 17.95)"/>
<rect x="107.85" y="28.7" width="10.3" height="10.3" fill="#5C5F62" transform="rotate(45 113 33.85)"/>
<rect x="99.9" y="20.75" width="10.3" height="10.3" fill="#5C5F62" transform="rotate(45 105.05 25.9)"/>
<rect x="115.8" y="20.75" width="10.3" height="10.3" fill="#5C5F62" transform="rotate(45 120.95 25.9)"/>
<circle cx="113" cy="25.9" r="6.5" fill="#222426"/>
<path d="M113 14 l-1.5 2.8 h3z" fill="#c4c4c4"/>
<path d="M113 38.2 l-1.5 -2.8 h3z" fill="#c4c4c4"/>
<path d="M100.8 25.9 l2.8 -1.5 v3z" fill="#c4c4c4"/>
<path d="M125.2 25.9 l-2.8 -1.5 v3z" fill="#c4c4c4"/>
<circle cx="113" cy="25.9" r="4.35" fill="#E9E9E9"/>
<ellipse cx="113" cy="26" rx="2.4" ry="1.5" fill="#3a3a3a"/>
<rect x="109.15" y="44.9" width="7.7" height="7.7" rx="0.8" fill="#6A6C6E" transform="rotate(45 113 48.75)"/>
<circle cx="113" cy="48.75" r="3.6" fill="#E6E6E6"/>
<ellipse cx="113" cy="48.75" rx="2.3" ry="1.05" fill="#3a3a3a"/>
<rect x="127" y="48.2" width="8.8" height="8.8" rx="1.2" fill="#4A4C4F"/>
<circle cx="131.4" cy="52.6" r="3.65" fill="#EDEDED"/>
<ellipse cx="131.4" cy="52.6" rx="2.3" ry="1.05" fill="#3a3a3a"/>
<rect x="129.6" y="40.4" width="3.6" height="1" fill="#8d8f91"/><rect x="130.8" y="43.4" width="1.1" height="1.5" fill="#c9eef7"/>
<rect x="91.4" y="4.15" width="1.3" height="1.7" fill="#c9eef7"/><rect x="94.4" y="4.35" width="9.3" height="1.3" fill="#a4a6a8"/>
<rect x="124.8" y="4.35" width="5.9" height="1.3" fill="#a4a6a8"/><rect x="132.9" y="4.15" width="1.3" height="1.7" fill="#c9eef7"/>
<rect x="91.4" y="9.85" width="1.3" height="1.7" fill="#c9eef7"/><rect x="94.4" y="10.05" width="10.2" height="1.3" fill="#a4a6a8"/>
<rect x="117.7" y="10.05" width="13" height="1.3" fill="#a4a6a8"/><rect x="132.9" y="9.85" width="1.3" height="1.7" fill="#c9eef7"/>
<rect x="123" y="15.65" width="7.7" height="1.3" fill="#a4a6a8"/><rect x="132.9" y="15.45" width="1.3" height="1.7" fill="#c9eef7"/>
<rect x="20.3" y="43.3" width="1.8" height="1.8" fill="#c9eef7" transform="rotate(45 21.2 44.2)"/>
<rect x="31.8" y="43.3" width="1.8" height="1.8" fill="#c9eef7" transform="rotate(45 32.7 44.2)"/>
<rect x="43.2" y="43.3" width="1.8" height="1.8" fill="#c9eef7" transform="rotate(45 44.1 44.2)"/>
<rect x="54.7" y="43.3" width="1.8" height="1.8" fill="#c9eef7" transform="rotate(45 55.6 44.2)"/>
<rect x="19.6" y="40.5" width="3.2" height="0.9" fill="#8d8f91"/><rect x="42.6" y="40.5" width="3" height="0.9" fill="#8d8f91"/>
<rect x="40.1" y="48.3" width="8.3" height="8.6" fill="#5D5F61"/>
<rect x="18.3" y="49.6" width="6.2" height="4" fill="#BDBDBD"/><rect x="19.6" y="53.6" width="3.6" height="1.3" fill="#8f8f8f"/>
<path d="M24.5 52 H30.6 l2.8 1.4 M35.8 52 H42 L47.2 54.2 M45.6 52 H53.6 l2.8 1.4" fill="none" stroke="#c9c9c9" stroke-width="0.55"/>
</g>
<g transform="translate(866 653) scale(0.9942 1)" filter="url(#soft2)">
<rect width="138.8" height="59.7" fill="#222426"/>
<rect x="17" y="0" width="66" height="39.8" fill="#EE9531"/>
<rect x="19.9" y="15.5" width="60.1" height="21.4" fill="#C4E4EA"/>
<circle cx="23.9" cy="5" r="4" fill="#1b1b1b"/>
<path d="M21.3 3.7 L23.9 6.3 L26.5 3.7" fill="none" stroke="#EE9531" stroke-width="1.2"/>
<text x="29.9" y="7.05" font-size="5.6" font-weight="700" fill="#1b1b1b" textLength="20.6" lengthAdjust="spacingAndGlyphs">VERTIV</text>
<rect x="51" y="6.3" width="1.6" height="0.8" fill="#1b1b1b"/>
<rect x="40.7" y="9.5" width="39.1" height="1.4" fill="#F6CC95"/>
<rect x="63" y="13" width="16.8" height="1.4" fill="#3d2f1c"/>
<rect x="2.9" y="14.7" width="8.8" height="8.8" rx="1.2" fill="#4A4C4F"/>
<circle cx="7.3" cy="19.1" r="3.65" fill="#EDEDED"/>
<ellipse cx="7.3" cy="19.1" rx="2.3" ry="1.05" fill="#3a3a3a"/>
<rect x="2.9" y="28" width="8.8" height="8.8" rx="1.2" fill="#4A4C4F"/>
<circle cx="7.3" cy="32.4" r="3.65" fill="#EDEDED"/>
<ellipse cx="7.3" cy="32.4" rx="2.3" ry="1.05" fill="#3a3a3a"/>
<rect x="2.9" y="38.1" width="8.8" height="8.8" rx="1.2" fill="#4A4C4F"/>
<circle cx="7.3" cy="42.5" r="3.65" fill="#1D8348"/>
<ellipse cx="7.3" cy="42.5" rx="2.3" ry="1.05" fill="#7fc79d"/>
<rect x="2.9" y="48.2" width="8.8" height="8.8" rx="1.2" fill="#4A4C4F"/>
<circle cx="7.3" cy="52.6" r="3.65" fill="#E2322C"/>
<ellipse cx="7.3" cy="52.6" rx="2.3" ry="1.05" fill="#f3a19c"/>
<rect x="5.4" y="5.2" width="3.8" height="1" fill="#8d8f91"/><rect x="6.8" y="8.2" width="1.1" height="1.5" fill="#c9eef7"/><rect x="5.4" y="13.3" width="3.8" height="1" fill="#8d8f91"/>
<rect x="87.7" y="14.7" width="8.8" height="8.8" rx="1.2" fill="#4A4C4F"/>
<circle cx="92.1" cy="19.1" r="3.65" fill="#EDEDED"/>
<ellipse cx="92.1" cy="19.1" rx="2.3" ry="1.05" fill="#3a3a3a"/>
<rect x="87.7" y="28" width="8.8" height="8.8" rx="1.2" fill="#4A4C4F"/>
<circle cx="92.1" cy="32.4" r="3.65" fill="#EDEDED"/>
<ellipse cx="92.1" cy="32.4" rx="2.3" ry="1.05" fill="#3a3a3a"/>
<rect x="107.85" y="12.8" width="10.3" height="10.3" fill="#5C5F62" transform="rotate(45 113 17.95)"/>
<rect x="107.85" y="28.7" width="10.3" height="10.3" fill="#5C5F62" transform="rotate(45 113 33.85)"/>
<rect x="99.9" y="20.75" width="10.3" height="10.3" fill="#5C5F62" transform="rotate(45 105.05 25.9)"/>
<rect x="115.8" y="20.75" width="10.3" height="10.3" fill="#5C5F62" transform="rotate(45 120.95 25.9)"/>
<circle cx="113" cy="25.9" r="6.5" fill="#222426"/>
<path d="M113 14 l-1.5 2.8 h3z" fill="#c4c4c4"/>
<path d="M113 38.2 l-1.5 -2.8 h3z" fill="#c4c4c4"/>
<path d="M100.8 25.9 l2.8 -1.5 v3z" fill="#c4c4c4"/>
<path d="M125.2 25.9 l-2.8 -1.5 v3z" fill="#c4c4c4"/>
<circle cx="113" cy="25.9" r="4.35" fill="#E9E9E9"/>
<ellipse cx="113" cy="26" rx="2.4" ry="1.5" fill="#3a3a3a"/>
<rect x="109.15" y="44.9" width="7.7" height="7.7" rx="0.8" fill="#6A6C6E" transform="rotate(45 113 48.75)"/>
<circle cx="113" cy="48.75" r="3.6" fill="#E6E6E6"/>
<ellipse cx="113" cy="48.75" rx="2.3" ry="1.05" fill="#3a3a3a"/>
<rect x="127" y="48.2" width="8.8" height="8.8" rx="1.2" fill="#4A4C4F"/>
<circle cx="131.4" cy="52.6" r="3.65" fill="#EDEDED"/>
<ellipse cx="131.4" cy="52.6" rx="2.3" ry="1.05" fill="#3a3a3a"/>
<rect x="129.6" y="40.4" width="3.6" height="1" fill="#8d8f91"/><rect x="130.8" y="43.4" width="1.1" height="1.5" fill="#c9eef7"/>
<rect x="91.4" y="4.15" width="1.3" height="1.7" fill="#c9eef7"/><rect x="94.4" y="4.35" width="9.3" height="1.3" fill="#a4a6a8"/>
<rect x="124.8" y="4.35" width="5.9" height="1.3" fill="#a4a6a8"/><rect x="132.9" y="4.15" width="1.3" height="1.7" fill="#c9eef7"/>
<rect x="91.4" y="9.85" width="1.3" height="1.7" fill="#c9eef7"/><rect x="94.4" y="10.05" width="10.2" height="1.3" fill="#a4a6a8"/>
<rect x="117.7" y="10.05" width="13" height="1.3" fill="#a4a6a8"/><rect x="132.9" y="9.85" width="1.3" height="1.7" fill="#c9eef7"/>
<rect x="123" y="15.65" width="7.7" height="1.3" fill="#a4a6a8"/><rect x="132.9" y="15.45" width="1.3" height="1.7" fill="#c9eef7"/>
<rect x="20.3" y="43.3" width="1.8" height="1.8" fill="#c9eef7" transform="rotate(45 21.2 44.2)"/>
<rect x="31.8" y="43.3" width="1.8" height="1.8" fill="#c9eef7" transform="rotate(45 32.7 44.2)"/>
<rect x="43.2" y="43.3" width="1.8" height="1.8" fill="#c9eef7" transform="rotate(45 44.1 44.2)"/>
<rect x="54.7" y="43.3" width="1.8" height="1.8" fill="#c9eef7" transform="rotate(45 55.6 44.2)"/>
<rect x="19.6" y="40.5" width="3.2" height="0.9" fill="#8d8f91"/><rect x="42.6" y="40.5" width="3" height="0.9" fill="#8d8f91"/>
<rect x="40.1" y="48.3" width="8.3" height="8.6" fill="#5D5F61"/>
<rect x="18.3" y="49.6" width="6.2" height="4" fill="#BDBDBD"/><rect x="19.6" y="53.6" width="3.6" height="1.3" fill="#8f8f8f"/>
<path d="M24.5 52 H30.6 l2.8 1.4 M35.8 52 H42 L47.2 54.2 M45.6 52 H53.6 l2.8 1.4" fill="none" stroke="#c9c9c9" stroke-width="0.55"/>
</g>
<g transform="translate(530 1739.8) scale(1.0014 1)" filter="url(#soft2)">
<rect width="138.8" height="59.7" fill="#222426"/>
<rect x="17" y="0" width="66" height="39.8" fill="#EE9531"/>
<rect x="19.9" y="15.5" width="60.1" height="21.4" fill="#C4E4EA"/>
<circle cx="23.9" cy="5" r="4" fill="#1b1b1b"/>
<path d="M21.3 3.7 L23.9 6.3 L26.5 3.7" fill="none" stroke="#EE9531" stroke-width="1.2"/>
<text x="29.9" y="7.05" font-size="5.6" font-weight="700" fill="#1b1b1b" textLength="20.6" lengthAdjust="spacingAndGlyphs">VERTIV</text>
<rect x="51" y="6.3" width="1.6" height="0.8" fill="#1b1b1b"/>
<rect x="40.7" y="9.5" width="39.1" height="1.4" fill="#F6CC95"/>
<rect x="63" y="13" width="16.8" height="1.4" fill="#3d2f1c"/>
<rect x="2.9" y="14.7" width="8.8" height="8.8" rx="1.2" fill="#4A4C4F"/>
<circle cx="7.3" cy="19.1" r="3.65" fill="#EDEDED"/>
<ellipse cx="7.3" cy="19.1" rx="2.3" ry="1.05" fill="#3a3a3a"/>
<rect x="2.9" y="28" width="8.8" height="8.8" rx="1.2" fill="#4A4C4F"/>
<circle cx="7.3" cy="32.4" r="3.65" fill="#EDEDED"/>
<ellipse cx="7.3" cy="32.4" rx="2.3" ry="1.05" fill="#3a3a3a"/>
<rect x="2.9" y="38.1" width="8.8" height="8.8" rx="1.2" fill="#4A4C4F"/>
<circle cx="7.3" cy="42.5" r="3.65" fill="#1D8348"/>
<ellipse cx="7.3" cy="42.5" rx="2.3" ry="1.05" fill="#7fc79d"/>
<rect x="2.9" y="48.2" width="8.8" height="8.8" rx="1.2" fill="#4A4C4F"/>
<circle cx="7.3" cy="52.6" r="3.65" fill="#E2322C"/>
<ellipse cx="7.3" cy="52.6" rx="2.3" ry="1.05" fill="#f3a19c"/>
<rect x="5.4" y="5.2" width="3.8" height="1" fill="#8d8f91"/><rect x="6.8" y="8.2" width="1.1" height="1.5" fill="#c9eef7"/><rect x="5.4" y="13.3" width="3.8" height="1" fill="#8d8f91"/>
<rect x="87.7" y="14.7" width="8.8" height="8.8" rx="1.2" fill="#4A4C4F"/>
<circle cx="92.1" cy="19.1" r="3.65" fill="#EDEDED"/>
<ellipse cx="92.1" cy="19.1" rx="2.3" ry="1.05" fill="#3a3a3a"/>
<rect x="87.7" y="28" width="8.8" height="8.8" rx="1.2" fill="#4A4C4F"/>
<circle cx="92.1" cy="32.4" r="3.65" fill="#EDEDED"/>
<ellipse cx="92.1" cy="32.4" rx="2.3" ry="1.05" fill="#3a3a3a"/>
<rect x="107.85" y="12.8" width="10.3" height="10.3" fill="#5C5F62" transform="rotate(45 113 17.95)"/>
<rect x="107.85" y="28.7" width="10.3" height="10.3" fill="#5C5F62" transform="rotate(45 113 33.85)"/>
<rect x="99.9" y="20.75" width="10.3" height="10.3" fill="#5C5F62" transform="rotate(45 105.05 25.9)"/>
<rect x="115.8" y="20.75" width="10.3" height="10.3" fill="#5C5F62" transform="rotate(45 120.95 25.9)"/>
<circle cx="113" cy="25.9" r="6.5" fill="#222426"/>
<path d="M113 14 l-1.5 2.8 h3z" fill="#c4c4c4"/>
<path d="M113 38.2 l-1.5 -2.8 h3z" fill="#c4c4c4"/>
<path d="M100.8 25.9 l2.8 -1.5 v3z" fill="#c4c4c4"/>
<path d="M125.2 25.9 l-2.8 -1.5 v3z" fill="#c4c4c4"/>
<circle cx="113" cy="25.9" r="4.35" fill="#E9E9E9"/>
<ellipse cx="113" cy="26" rx="2.4" ry="1.5" fill="#3a3a3a"/>
<rect x="109.15" y="44.9" width="7.7" height="7.7" rx="0.8" fill="#6A6C6E" transform="rotate(45 113 48.75)"/>
<circle cx="113" cy="48.75" r="3.6" fill="#E6E6E6"/>
<ellipse cx="113" cy="48.75" rx="2.3" ry="1.05" fill="#3a3a3a"/>
<rect x="127" y="48.2" width="8.8" height="8.8" rx="1.2" fill="#4A4C4F"/>
<circle cx="131.4" cy="52.6" r="3.65" fill="#EDEDED"/>
<ellipse cx="131.4" cy="52.6" rx="2.3" ry="1.05" fill="#3a3a3a"/>
<rect x="129.6" y="40.4" width="3.6" height="1" fill="#8d8f91"/><rect x="130.8" y="43.4" width="1.1" height="1.5" fill="#c9eef7"/>
<rect x="91.4" y="4.15" width="1.3" height="1.7" fill="#c9eef7"/><rect x="94.4" y="4.35" width="9.3" height="1.3" fill="#a4a6a8"/>
<rect x="124.8" y="4.35" width="5.9" height="1.3" fill="#a4a6a8"/><rect x="132.9" y="4.15" width="1.3" height="1.7" fill="#c9eef7"/>
<rect x="91.4" y="9.85" width="1.3" height="1.7" fill="#c9eef7"/><rect x="94.4" y="10.05" width="10.2" height="1.3" fill="#a4a6a8"/>
<rect x="117.7" y="10.05" width="13" height="1.3" fill="#a4a6a8"/><rect x="132.9" y="9.85" width="1.3" height="1.7" fill="#c9eef7"/>
<rect x="123" y="15.65" width="7.7" height="1.3" fill="#a4a6a8"/><rect x="132.9" y="15.45" width="1.3" height="1.7" fill="#c9eef7"/>
<rect x="20.3" y="43.3" width="1.8" height="1.8" fill="#c9eef7" transform="rotate(45 21.2 44.2)"/>
<rect x="31.8" y="43.3" width="1.8" height="1.8" fill="#c9eef7" transform="rotate(45 32.7 44.2)"/>
<rect x="43.2" y="43.3" width="1.8" height="1.8" fill="#c9eef7" transform="rotate(45 44.1 44.2)"/>
<rect x="54.7" y="43.3" width="1.8" height="1.8" fill="#c9eef7" transform="rotate(45 55.6 44.2)"/>
<rect x="19.6" y="40.5" width="3.2" height="0.9" fill="#8d8f91"/><rect x="42.6" y="40.5" width="3" height="0.9" fill="#8d8f91"/>
<rect x="40.1" y="48.3" width="8.3" height="8.6" fill="#5D5F61"/>
<rect x="18.3" y="49.6" width="6.2" height="4" fill="#BDBDBD"/><rect x="19.6" y="53.6" width="3.6" height="1.3" fill="#8f8f8f"/>
<path d="M24.5 52 H30.6 l2.8 1.4 M35.8 52 H42 L47.2 54.2 M45.6 52 H53.6 l2.8 1.4" fill="none" stroke="#c9c9c9" stroke-width="0.55"/>
</g>
<g transform="translate(830 1739.8) scale(0.9942 1)" filter="url(#soft2)">
<rect width="138.8" height="59.7" fill="#222426"/>
<rect x="17" y="0" width="66" height="39.8" fill="#EE9531"/>
<rect x="19.9" y="15.5" width="60.1" height="21.4" fill="#C4E4EA"/>
<circle cx="23.9" cy="5" r="4" fill="#1b1b1b"/>
<path d="M21.3 3.7 L23.9 6.3 L26.5 3.7" fill="none" stroke="#EE9531" stroke-width="1.2"/>
<text x="29.9" y="7.05" font-size="5.6" font-weight="700" fill="#1b1b1b" textLength="20.6" lengthAdjust="spacingAndGlyphs">VERTIV</text>
<rect x="51" y="6.3" width="1.6" height="0.8" fill="#1b1b1b"/>
<rect x="40.7" y="9.5" width="39.1" height="1.4" fill="#F6CC95"/>
<rect x="63" y="13" width="16.8" height="1.4" fill="#3d2f1c"/>
<rect x="2.9" y="14.7" width="8.8" height="8.8" rx="1.2" fill="#4A4C4F"/>
<circle cx="7.3" cy="19.1" r="3.65" fill="#EDEDED"/>
<ellipse cx="7.3" cy="19.1" rx="2.3" ry="1.05" fill="#3a3a3a"/>
<rect x="2.9" y="28" width="8.8" height="8.8" rx="1.2" fill="#4A4C4F"/>
<circle cx="7.3" cy="32.4" r="3.65" fill="#EDEDED"/>
<ellipse cx="7.3" cy="32.4" rx="2.3" ry="1.05" fill="#3a3a3a"/>
<rect x="2.9" y="38.1" width="8.8" height="8.8" rx="1.2" fill="#4A4C4F"/>
<circle cx="7.3" cy="42.5" r="3.65" fill="#1D8348"/>
<ellipse cx="7.3" cy="42.5" rx="2.3" ry="1.05" fill="#7fc79d"/>
<rect x="2.9" y="48.2" width="8.8" height="8.8" rx="1.2" fill="#4A4C4F"/>
<circle cx="7.3" cy="52.6" r="3.65" fill="#E2322C"/>
<ellipse cx="7.3" cy="52.6" rx="2.3" ry="1.05" fill="#f3a19c"/>
<rect x="5.4" y="5.2" width="3.8" height="1" fill="#8d8f91"/><rect x="6.8" y="8.2" width="1.1" height="1.5" fill="#c9eef7"/><rect x="5.4" y="13.3" width="3.8" height="1" fill="#8d8f91"/>
<rect x="87.7" y="14.7" width="8.8" height="8.8" rx="1.2" fill="#4A4C4F"/>
<circle cx="92.1" cy="19.1" r="3.65" fill="#EDEDED"/>
<ellipse cx="92.1" cy="19.1" rx="2.3" ry="1.05" fill="#3a3a3a"/>
<rect x="87.7" y="28" width="8.8" height="8.8" rx="1.2" fill="#4A4C4F"/>
<circle cx="92.1" cy="32.4" r="3.65" fill="#EDEDED"/>
<ellipse cx="92.1" cy="32.4" rx="2.3" ry="1.05" fill="#3a3a3a"/>
<rect x="107.85" y="12.8" width="10.3" height="10.3" fill="#5C5F62" transform="rotate(45 113 17.95)"/>
<rect x="107.85" y="28.7" width="10.3" height="10.3" fill="#5C5F62" transform="rotate(45 113 33.85)"/>
<rect x="99.9" y="20.75" width="10.3" height="10.3" fill="#5C5F62" transform="rotate(45 105.05 25.9)"/>
<rect x="115.8" y="20.75" width="10.3" height="10.3" fill="#5C5F62" transform="rotate(45 120.95 25.9)"/>
<circle cx="113" cy="25.9" r="6.5" fill="#222426"/>
<path d="M113 14 l-1.5 2.8 h3z" fill="#c4c4c4"/>
<path d="M113 38.2 l-1.5 -2.8 h3z" fill="#c4c4c4"/>
<path d="M100.8 25.9 l2.8 -1.5 v3z" fill="#c4c4c4"/>
<path d="M125.2 25.9 l-2.8 -1.5 v3z" fill="#c4c4c4"/>
<circle cx="113" cy="25.9" r="4.35" fill="#E9E9E9"/>
<ellipse cx="113" cy="26" rx="2.4" ry="1.5" fill="#3a3a3a"/>
<rect x="109.15" y="44.9" width="7.7" height="7.7" rx="0.8" fill="#6A6C6E" transform="rotate(45 113 48.75)"/>
<circle cx="113" cy="48.75" r="3.6" fill="#E6E6E6"/>
<ellipse cx="113" cy="48.75" rx="2.3" ry="1.05" fill="#3a3a3a"/>
<rect x="127" y="48.2" width="8.8" height="8.8" rx="1.2" fill="#4A4C4F"/>
<circle cx="131.4" cy="52.6" r="3.65" fill="#EDEDED"/>
<ellipse cx="131.4" cy="52.6" rx="2.3" ry="1.05" fill="#3a3a3a"/>
<rect x="129.6" y="40.4" width="3.6" height="1" fill="#8d8f91"/><rect x="130.8" y="43.4" width="1.1" height="1.5" fill="#c9eef7"/>
<rect x="91.4" y="4.15" width="1.3" height="1.7" fill="#c9eef7"/><rect x="94.4" y="4.35" width="9.3" height="1.3" fill="#a4a6a8"/>
<rect x="124.8" y="4.35" width="5.9" height="1.3" fill="#a4a6a8"/><rect x="132.9" y="4.15" width="1.3" height="1.7" fill="#c9eef7"/>
<rect x="91.4" y="9.85" width="1.3" height="1.7" fill="#c9eef7"/><rect x="94.4" y="10.05" width="10.2" height="1.3" fill="#a4a6a8"/>
<rect x="117.7" y="10.05" width="13" height="1.3" fill="#a4a6a8"/><rect x="132.9" y="9.85" width="1.3" height="1.7" fill="#c9eef7"/>
<rect x="123" y="15.65" width="7.7" height="1.3" fill="#a4a6a8"/><rect x="132.9" y="15.45" width="1.3" height="1.7" fill="#c9eef7"/>
<rect x="20.3" y="43.3" width="1.8" height="1.8" fill="#c9eef7" transform="rotate(45 21.2 44.2)"/>
<rect x="31.8" y="43.3" width="1.8" height="1.8" fill="#c9eef7" transform="rotate(45 32.7 44.2)"/>
<rect x="43.2" y="43.3" width="1.8" height="1.8" fill="#c9eef7" transform="rotate(45 44.1 44.2)"/>
<rect x="54.7" y="43.3" width="1.8" height="1.8" fill="#c9eef7" transform="rotate(45 55.6 44.2)"/>
<rect x="19.6" y="40.5" width="3.2" height="0.9" fill="#8d8f91"/><rect x="42.6" y="40.5" width="3" height="0.9" fill="#8d8f91"/>
<rect x="40.1" y="48.3" width="8.3" height="8.6" fill="#5D5F61"/>
<rect x="18.3" y="49.6" width="6.2" height="4" fill="#BDBDBD"/><rect x="19.6" y="53.6" width="3.6" height="1.3" fill="#8f8f8f"/>
<path d="M24.5 52 H30.6 l2.8 1.4 M35.8 52 H42 L47.2 54.2 M45.6 52 H53.6 l2.8 1.4" fill="none" stroke="#c9c9c9" stroke-width="0.55"/>
</g>
<g transform="translate(1402 1739.8) scale(0.9942 1)" filter="url(#soft2)">
<rect width="138.8" height="59.7" fill="#222426"/>
<rect x="17" y="0" width="66" height="39.8" fill="#EE9531"/>
<rect x="19.9" y="15.5" width="60.1" height="21.4" fill="#C4E4EA"/>
<circle cx="23.9" cy="5" r="4" fill="#1b1b1b"/>
<path d="M21.3 3.7 L23.9 6.3 L26.5 3.7" fill="none" stroke="#EE9531" stroke-width="1.2"/>
<text x="29.9" y="7.05" font-size="5.6" font-weight="700" fill="#1b1b1b" textLength="20.6" lengthAdjust="spacingAndGlyphs">VERTIV</text>
<rect x="51" y="6.3" width="1.6" height="0.8" fill="#1b1b1b"/>
<rect x="40.7" y="9.5" width="39.1" height="1.4" fill="#F6CC95"/>
<rect x="63" y="13" width="16.8" height="1.4" fill="#3d2f1c"/>
<rect x="2.9" y="14.7" width="8.8" height="8.8" rx="1.2" fill="#4A4C4F"/>
<circle cx="7.3" cy="19.1" r="3.65" fill="#EDEDED"/>
<ellipse cx="7.3" cy="19.1" rx="2.3" ry="1.05" fill="#3a3a3a"/>
<rect x="2.9" y="28" width="8.8" height="8.8" rx="1.2" fill="#4A4C4F"/>
<circle cx="7.3" cy="32.4" r="3.65" fill="#EDEDED"/>
<ellipse cx="7.3" cy="32.4" rx="2.3" ry="1.05" fill="#3a3a3a"/>
<rect x="2.9" y="38.1" width="8.8" height="8.8" rx="1.2" fill="#4A4C4F"/>
<circle cx="7.3" cy="42.5" r="3.65" fill="#1D8348"/>
<ellipse cx="7.3" cy="42.5" rx="2.3" ry="1.05" fill="#7fc79d"/>
<rect x="2.9" y="48.2" width="8.8" height="8.8" rx="1.2" fill="#4A4C4F"/>
<circle cx="7.3" cy="52.6" r="3.65" fill="#E2322C"/>
<ellipse cx="7.3" cy="52.6" rx="2.3" ry="1.05" fill="#f3a19c"/>
<rect x="5.4" y="5.2" width="3.8" height="1" fill="#8d8f91"/><rect x="6.8" y="8.2" width="1.1" height="1.5" fill="#c9eef7"/><rect x="5.4" y="13.3" width="3.8" height="1" fill="#8d8f91"/>
<rect x="87.7" y="14.7" width="8.8" height="8.8" rx="1.2" fill="#4A4C4F"/>
<circle cx="92.1" cy="19.1" r="3.65" fill="#EDEDED"/>
<ellipse cx="92.1" cy="19.1" rx="2.3" ry="1.05" fill="#3a3a3a"/>
<rect x="87.7" y="28" width="8.8" height="8.8" rx="1.2" fill="#4A4C4F"/>
<circle cx="92.1" cy="32.4" r="3.65" fill="#EDEDED"/>
<ellipse cx="92.1" cy="32.4" rx="2.3" ry="1.05" fill="#3a3a3a"/>
<rect x="107.85" y="12.8" width="10.3" height="10.3" fill="#5C5F62" transform="rotate(45 113 17.95)"/>
<rect x="107.85" y="28.7" width="10.3" height="10.3" fill="#5C5F62" transform="rotate(45 113 33.85)"/>
<rect x="99.9" y="20.75" width="10.3" height="10.3" fill="#5C5F62" transform="rotate(45 105.05 25.9)"/>
<rect x="115.8" y="20.75" width="10.3" height="10.3" fill="#5C5F62" transform="rotate(45 120.95 25.9)"/>
<circle cx="113" cy="25.9" r="6.5" fill="#222426"/>
<path d="M113 14 l-1.5 2.8 h3z" fill="#c4c4c4"/>
<path d="M113 38.2 l-1.5 -2.8 h3z" fill="#c4c4c4"/>
<path d="M100.8 25.9 l2.8 -1.5 v3z" fill="#c4c4c4"/>
<path d="M125.2 25.9 l-2.8 -1.5 v3z" fill="#c4c4c4"/>
<circle cx="113" cy="25.9" r="4.35" fill="#E9E9E9"/>
<ellipse cx="113" cy="26" rx="2.4" ry="1.5" fill="#3a3a3a"/>
<rect x="109.15" y="44.9" width="7.7" height="7.7" rx="0.8" fill="#6A6C6E" transform="rotate(45 113 48.75)"/>
<circle cx="113" cy="48.75" r="3.6" fill="#E6E6E6"/>
<ellipse cx="113" cy="48.75" rx="2.3" ry="1.05" fill="#3a3a3a"/>
<rect x="127" y="48.2" width="8.8" height="8.8" rx="1.2" fill="#4A4C4F"/>
<circle cx="131.4" cy="52.6" r="3.65" fill="#EDEDED"/>
<ellipse cx="131.4" cy="52.6" rx="2.3" ry="1.05" fill="#3a3a3a"/>
<rect x="129.6" y="40.4" width="3.6" height="1" fill="#8d8f91"/><rect x="130.8" y="43.4" width="1.1" height="1.5" fill="#c9eef7"/>
<rect x="91.4" y="4.15" width="1.3" height="1.7" fill="#c9eef7"/><rect x="94.4" y="4.35" width="9.3" height="1.3" fill="#a4a6a8"/>
<rect x="124.8" y="4.35" width="5.9" height="1.3" fill="#a4a6a8"/><rect x="132.9" y="4.15" width="1.3" height="1.7" fill="#c9eef7"/>
<rect x="91.4" y="9.85" width="1.3" height="1.7" fill="#c9eef7"/><rect x="94.4" y="10.05" width="10.2" height="1.3" fill="#a4a6a8"/>
<rect x="117.7" y="10.05" width="13" height="1.3" fill="#a4a6a8"/><rect x="132.9" y="9.85" width="1.3" height="1.7" fill="#c9eef7"/>
<rect x="123" y="15.65" width="7.7" height="1.3" fill="#a4a6a8"/><rect x="132.9" y="15.45" width="1.3" height="1.7" fill="#c9eef7"/>
<rect x="20.3" y="43.3" width="1.8" height="1.8" fill="#c9eef7" transform="rotate(45 21.2 44.2)"/>
<rect x="31.8" y="43.3" width="1.8" height="1.8" fill="#c9eef7" transform="rotate(45 32.7 44.2)"/>
<rect x="43.2" y="43.3" width="1.8" height="1.8" fill="#c9eef7" transform="rotate(45 44.1 44.2)"/>
<rect x="54.7" y="43.3" width="1.8" height="1.8" fill="#c9eef7" transform="rotate(45 55.6 44.2)"/>
<rect x="19.6" y="40.5" width="3.2" height="0.9" fill="#8d8f91"/><rect x="42.6" y="40.5" width="3" height="0.9" fill="#8d8f91"/>
<rect x="40.1" y="48.3" width="8.3" height="8.6" fill="#5D5F61"/>
<rect x="18.3" y="49.6" width="6.2" height="4" fill="#BDBDBD"/><rect x="19.6" y="53.6" width="3.6" height="1.3" fill="#8f8f8f"/>
<path d="M24.5 52 H30.6 l2.8 1.4 M35.8 52 H42 L47.2 54.2 M45.6 52 H53.6 l2.8 1.4" fill="none" stroke="#c9c9c9" stroke-width="0.55"/>
</g>
<g transform="translate(1636 1739.8) scale(0.9942 1)" filter="url(#soft2)">
<rect width="138.8" height="59.7" fill="#222426"/>
<rect x="17" y="0" width="66" height="39.8" fill="#EE9531"/>
<rect x="19.9" y="15.5" width="60.1" height="21.4" fill="#C4E4EA"/>
<circle cx="23.9" cy="5" r="4" fill="#1b1b1b"/>
<path d="M21.3 3.7 L23.9 6.3 L26.5 3.7" fill="none" stroke="#EE9531" stroke-width="1.2"/>
<text x="29.9" y="7.05" font-size="5.6" font-weight="700" fill="#1b1b1b" textLength="20.6" lengthAdjust="spacingAndGlyphs">VERTIV</text>
<rect x="51" y="6.3" width="1.6" height="0.8" fill="#1b1b1b"/>
<rect x="40.7" y="9.5" width="39.1" height="1.4" fill="#F6CC95"/>
<rect x="63" y="13" width="16.8" height="1.4" fill="#3d2f1c"/>
<rect x="2.9" y="14.7" width="8.8" height="8.8" rx="1.2" fill="#4A4C4F"/>
<circle cx="7.3" cy="19.1" r="3.65" fill="#EDEDED"/>
<ellipse cx="7.3" cy="19.1" rx="2.3" ry="1.05" fill="#3a3a3a"/>
<rect x="2.9" y="28" width="8.8" height="8.8" rx="1.2" fill="#4A4C4F"/>
<circle cx="7.3" cy="32.4" r="3.65" fill="#EDEDED"/>
<ellipse cx="7.3" cy="32.4" rx="2.3" ry="1.05" fill="#3a3a3a"/>
<rect x="2.9" y="38.1" width="8.8" height="8.8" rx="1.2" fill="#4A4C4F"/>
<circle cx="7.3" cy="42.5" r="3.65" fill="#1D8348"/>
<ellipse cx="7.3" cy="42.5" rx="2.3" ry="1.05" fill="#7fc79d"/>
<rect x="2.9" y="48.2" width="8.8" height="8.8" rx="1.2" fill="#4A4C4F"/>
<circle cx="7.3" cy="52.6" r="3.65" fill="#E2322C"/>
<ellipse cx="7.3" cy="52.6" rx="2.3" ry="1.05" fill="#f3a19c"/>
<rect x="5.4" y="5.2" width="3.8" height="1" fill="#8d8f91"/><rect x="6.8" y="8.2" width="1.1" height="1.5" fill="#c9eef7"/><rect x="5.4" y="13.3" width="3.8" height="1" fill="#8d8f91"/>
<rect x="87.7" y="14.7" width="8.8" height="8.8" rx="1.2" fill="#4A4C4F"/>
<circle cx="92.1" cy="19.1" r="3.65" fill="#EDEDED"/>
<ellipse cx="92.1" cy="19.1" rx="2.3" ry="1.05" fill="#3a3a3a"/>
<rect x="87.7" y="28" width="8.8" height="8.8" rx="1.2" fill="#4A4C4F"/>
<circle cx="92.1" cy="32.4" r="3.65" fill="#EDEDED"/>
<ellipse cx="92.1" cy="32.4" rx="2.3" ry="1.05" fill="#3a3a3a"/>
<rect x="107.85" y="12.8" width="10.3" height="10.3" fill="#5C5F62" transform="rotate(45 113 17.95)"/>
<rect x="107.85" y="28.7" width="10.3" height="10.3" fill="#5C5F62" transform="rotate(45 113 33.85)"/>
<rect x="99.9" y="20.75" width="10.3" height="10.3" fill="#5C5F62" transform="rotate(45 105.05 25.9)"/>
<rect x="115.8" y="20.75" width="10.3" height="10.3" fill="#5C5F62" transform="rotate(45 120.95 25.9)"/>
<circle cx="113" cy="25.9" r="6.5" fill="#222426"/>
<path d="M113 14 l-1.5 2.8 h3z" fill="#c4c4c4"/>
<path d="M113 38.2 l-1.5 -2.8 h3z" fill="#c4c4c4"/>
<path d="M100.8 25.9 l2.8 -1.5 v3z" fill="#c4c4c4"/>
<path d="M125.2 25.9 l-2.8 -1.5 v3z" fill="#c4c4c4"/>
<circle cx="113" cy="25.9" r="4.35" fill="#E9E9E9"/>
<ellipse cx="113" cy="26" rx="2.4" ry="1.5" fill="#3a3a3a"/>
<rect x="109.15" y="44.9" width="7.7" height="7.7" rx="0.8" fill="#6A6C6E" transform="rotate(45 113 48.75)"/>
<circle cx="113" cy="48.75" r="3.6" fill="#E6E6E6"/>
<ellipse cx="113" cy="48.75" rx="2.3" ry="1.05" fill="#3a3a3a"/>
<rect x="127" y="48.2" width="8.8" height="8.8" rx="1.2" fill="#4A4C4F"/>
<circle cx="131.4" cy="52.6" r="3.65" fill="#EDEDED"/>
<ellipse cx="131.4" cy="52.6" rx="2.3" ry="1.05" fill="#3a3a3a"/>
<rect x="129.6" y="40.4" width="3.6" height="1" fill="#8d8f91"/><rect x="130.8" y="43.4" width="1.1" height="1.5" fill="#c9eef7"/>
<rect x="91.4" y="4.15" width="1.3" height="1.7" fill="#c9eef7"/><rect x="94.4" y="4.35" width="9.3" height="1.3" fill="#a4a6a8"/>
<rect x="124.8" y="4.35" width="5.9" height="1.3" fill="#a4a6a8"/><rect x="132.9" y="4.15" width="1.3" height="1.7" fill="#c9eef7"/>
<rect x="91.4" y="9.85" width="1.3" height="1.7" fill="#c9eef7"/><rect x="94.4" y="10.05" width="10.2" height="1.3" fill="#a4a6a8"/>
<rect x="117.7" y="10.05" width="13" height="1.3" fill="#a4a6a8"/><rect x="132.9" y="9.85" width="1.3" height="1.7" fill="#c9eef7"/>
<rect x="123" y="15.65" width="7.7" height="1.3" fill="#a4a6a8"/><rect x="132.9" y="15.45" width="1.3" height="1.7" fill="#c9eef7"/>
<rect x="20.3" y="43.3" width="1.8" height="1.8" fill="#c9eef7" transform="rotate(45 21.2 44.2)"/>
<rect x="31.8" y="43.3" width="1.8" height="1.8" fill="#c9eef7" transform="rotate(45 32.7 44.2)"/>
<rect x="43.2" y="43.3" width="1.8" height="1.8" fill="#c9eef7" transform="rotate(45 44.1 44.2)"/>
<rect x="54.7" y="43.3" width="1.8" height="1.8" fill="#c9eef7" transform="rotate(45 55.6 44.2)"/>
<rect x="19.6" y="40.5" width="3.2" height="0.9" fill="#8d8f91"/><rect x="42.6" y="40.5" width="3" height="0.9" fill="#8d8f91"/>
<rect x="40.1" y="48.3" width="8.3" height="8.6" fill="#5D5F61"/>
<rect x="18.3" y="49.6" width="6.2" height="4" fill="#BDBDBD"/><rect x="19.6" y="53.6" width="3.6" height="1.3" fill="#8f8f8f"/>
<path d="M24.5 52 H30.6 l2.8 1.4 M35.8 52 H42 L47.2 54.2 M45.6 52 H53.6 l2.8 1.4" fill="none" stroke="#c9c9c9" stroke-width="0.55"/>
</g>
<g>
<text x="273.11" y="913" font-size="52.4" textLength="102.87" lengthAdjust="spacingAndGlyphs">EMS</text>
<text x="1919.48" y="949.5" font-size="52.4" textLength="136.93" lengthAdjust="spacingAndGlyphs">Utility</text>
<text x="2043.3" y="1267.5" font-size="52.4" textLength="292.74" lengthAdjust="spacingAndGlyphs">Smart SWGR</text>
<text x="629.78" y="2083.3" font-size="52.4" textLength="192.93" lengthAdjust="spacingAndGlyphs">Solar PV</text>
<text x="1825.73" y="1942.8" font-size="52.4" textLength="122.68" lengthAdjust="spacingAndGlyphs">BESS</text>
<text x="1468.46" y="2284.8" font-size="52.4" textLength="194.33" lengthAdjust="spacingAndGlyphs">Fuel Cell</text>
<text x="959.51" y="2209" font-size="52.4" textLength="48.03" lengthAdjust="spacingAndGlyphs">IT</text>
<text x="927.82" y="2259" font-size="52.4" textLength="113.47" lengthAdjust="spacingAndGlyphs">Load</text>
<text x="1172.01" y="2209" font-size="52.4" textLength="131.36" lengthAdjust="spacingAndGlyphs">Other</text>
<text x="1181.57" y="2259" font-size="52.4" textLength="113.47" lengthAdjust="spacingAndGlyphs">Load</text>
<text x="2085.41" y="458" font-size="42.6" textLength="130.28" lengthAdjust="spacingAndGlyphs">34.5kV</text>
<text x="2050.34" y="508" font-size="42.6" textLength="201.09" lengthAdjust="spacingAndGlyphs">Plant Feed</text>
<text x="1217.93" y="981.4" font-size="42.6" textLength="128.55" lengthAdjust="spacingAndGlyphs">34.5kV</text>
<text x="1169.05" y="1031.4" font-size="42.6" textLength="229.16" lengthAdjust="spacingAndGlyphs">Transformer</text>
<text x="1203.26" y="1081.3" font-size="42.6" textLength="160.92" lengthAdjust="spacingAndGlyphs">600VAC</text>
<text x="1984.28" y="1447" font-size="42.6" textLength="159.59" lengthAdjust="spacingAndGlyphs">600VAC</text>
<text x="1968.67" y="1497" font-size="42.6" textLength="190.16" lengthAdjust="spacingAndGlyphs">ISO XFMR</text>
<text x="1985.31" y="1546.3" font-size="42.6" textLength="157.13" lengthAdjust="spacingAndGlyphs">690VAC</text>
</g>
<g>
<rect x="2536.8" y="141" width="2218.7" height="70.3" fill="#000"/>
<rect x="2536.8" y="211.3" width="418.3" height="208" fill="#FE5B1B"/>
<rect x="2536.8" y="419.3" width="418.3" height="351.5" fill="#83EDE6"/>
<rect x="2536.8" y="770.8" width="418.3" height="289.2" fill="#9DFF92"/>
<line x1="2955.1" y1="419.3" x2="4755.5" y2="419.3" stroke="#CDCDCD" stroke-width="1.8"/>
<line x1="2955.1" y1="770.8" x2="4755.5" y2="770.8" stroke="#CDCDCD" stroke-width="1.8"/>
<line x1="2955.1" y1="1060" x2="4755.5" y2="1060" stroke="#CDCDCD" stroke-width="1.8"/>
<line x1="3262.8" y1="211.3" x2="3262.8" y2="1060.9" stroke="#CDCDCD" stroke-width="1.8"/>
<line x1="4088" y1="211.3" x2="4088" y2="1060.9" stroke="#CDCDCD" stroke-width="1.8"/>
<line x1="4755.5" y1="211.3" x2="4755.5" y2="1060.9" stroke="#CDCDCD" stroke-width="1.8"/>
<text x="2560.2" y="193" font-size="42" font-weight="700" fill="#fff" textLength="250.81" lengthAdjust="spacingAndGlyphs">Functionality</text>
<text x="2972.84" y="193" font-size="42" font-weight="700" fill="#fff" textLength="211.34" lengthAdjust="spacingAndGlyphs">Time Scale</text>
<text x="3292.65" y="193" font-size="42" font-weight="700" fill="#fff" textLength="152.25" lengthAdjust="spacingAndGlyphs">Purpose</text>
<text x="4112.96" y="193" font-size="42" font-weight="700" fill="#fff" textLength="108.31" lengthAdjust="spacingAndGlyphs">When</text>
<text x="2558.33" y="333" font-size="42" font-weight="700" fill="#fff" textLength="249.85" lengthAdjust="spacingAndGlyphs">Switch Logic</text>
<text x="2560.11" y="632.6" font-size="42" font-weight="700" textLength="377.33" lengthAdjust="spacingAndGlyphs">Power Flow Control</text>
<text x="2560.21" y="933" font-size="42" font-weight="700" textLength="305.79" lengthAdjust="spacingAndGlyphs">Energy Planning</text>
<text x="2972.92" y="267" font-size="42.2" textLength="159.68" lengthAdjust="spacingAndGlyphs">AC cycle</text>
<text x="2972.08" y="321.5" font-size="42.2" textLength="75.91" lengthAdjust="spacingAndGlyphs">Ts &lt;</text>
<text x="2970.99" y="376.2" font-size="42.2" textLength="151.37" lengthAdjust="spacingAndGlyphs">20 msec</text>
<text x="2973.42" y="597.8" font-size="42.2" textLength="246.99" lengthAdjust="spacingAndGlyphs">0.1 sec - 5 sec</text>
<text x="2973.05" y="652" font-size="42.2" textLength="153.34" lengthAdjust="spacingAndGlyphs">intervals</text>
<text x="2973.35" y="901" font-size="42.2" textLength="244.55" lengthAdjust="spacingAndGlyphs">5 min - 15 min</text>
<text x="2973.05" y="955.6" font-size="42.2" textLength="153.34" lengthAdjust="spacingAndGlyphs">intervals</text>
<text x="3290.44" y="298.1" font-size="42.2" textLength="533.89" lengthAdjust="spacingAndGlyphs">Synchronized disconnect and</text>
<text x="3291.12" y="352.8" font-size="42.2" textLength="516.99" lengthAdjust="spacingAndGlyphs">startup/switching of inverter</text>
<text x="3288.94" y="500.6" font-size="42.2" textLength="737.44" lengthAdjust="spacingAndGlyphs">Power flow coordination between energy</text>
<text x="3289.59" y="555.1" font-size="42.2" textLength="717.65" lengthAdjust="spacingAndGlyphs">resources and possible non-critical load</text>
<text x="3291.17" y="609.6" font-size="42.2" textLength="745" lengthAdjust="spacingAndGlyphs">switching maintain power demand, power</text>
<text x="3290.58" y="664.1" font-size="42.2" textLength="637.83" lengthAdjust="spacingAndGlyphs">quality, voltage levels and minimize</text>
<text x="3289.68" y="718.6" font-size="42.2" textLength="245.93" lengthAdjust="spacingAndGlyphs">peak demand</text>
<text x="3291.45" y="866" font-size="42.2" textLength="549.71" lengthAdjust="spacingAndGlyphs">Keeping energy storage within</text>
<text x="3291.36" y="921.5" font-size="42.2" textLength="663.65" lengthAdjust="spacingAndGlyphs">constraints, planning for Time of Use</text>
<text x="3290.46" y="978.4" font-size="42.2" textLength="342.5" lengthAdjust="spacingAndGlyphs">(ToU) optimization</text>
<text x="4111.66" y="298.1" font-size="42.2" textLength="566.04" lengthAdjust="spacingAndGlyphs">Transition from grid-connected</text>
<text x="4111.98" y="352.8" font-size="42.2" textLength="209.97" lengthAdjust="spacingAndGlyphs">to Islanding</text>
<text x="4112" y="597.8" font-size="42.2" textLength="569.49" lengthAdjust="spacingAndGlyphs">Either during grid-connected or</text>
<text x="4112.65" y="652" font-size="42.2" textLength="329.02" lengthAdjust="spacingAndGlyphs">islanded condition</text>
<text x="4111.66" y="900.8" font-size="42.2" textLength="578.04" lengthAdjust="spacingAndGlyphs">Typically during grid-connected</text>
<text x="4111.81" y="955.4" font-size="42.2" textLength="168.21" lengthAdjust="spacingAndGlyphs">condition</text>
</g>
</svg>
</body></html>
